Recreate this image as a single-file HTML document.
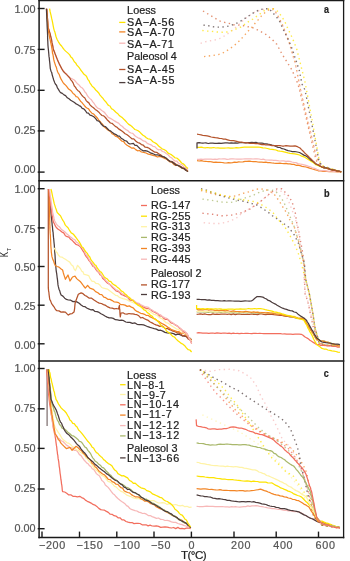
<!DOCTYPE html>
<html><head><meta charset="utf-8"><style>
html,body{margin:0;padding:0;background:#fff;width:350px;height:561px;overflow:hidden}
svg{display:block;font-family:"Liberation Sans",sans-serif;filter:blur(0.3px)}
text{stroke-width:0.22px}
</style></head><body>
<svg width="350" height="561" viewBox="0 0 350 561">
<rect width="350" height="561" fill="#fff"/>
<line x1="39.1" y1="0" x2="39.1" y2="538.2" stroke="#1a1a1a" stroke-width="1.5"/>
<line x1="343.6" y1="0" x2="343.6" y2="538.2" stroke="#1a1a1a" stroke-width="1.3"/>
<line x1="38.4" y1="0.6" x2="344.3" y2="0.6" stroke="#1a1a1a" stroke-width="1.5"/>
<line x1="38.4" y1="180.7" x2="344.3" y2="180.7" stroke="#1a1a1a" stroke-width="1.5"/>
<line x1="38.4" y1="360.9" x2="344.3" y2="360.9" stroke="#1a1a1a" stroke-width="1.5"/>
<line x1="38.4" y1="537.5" x2="344.3" y2="537.5" stroke="#1a1a1a" stroke-width="1.5"/>
<line x1="37.7" y1="8.5" x2="44.6" y2="8.5" stroke="#1a1a1a" stroke-width="1.4"/>
<text x="35.5" y="13.1" fill="#555" stroke="#555" font-size="10.8" text-anchor="end" >1.00</text>
<line x1="37.7" y1="49.4" x2="44.6" y2="49.4" stroke="#1a1a1a" stroke-width="1.4"/>
<text x="35.5" y="53.8" fill="#555" stroke="#555" font-size="10.8" text-anchor="end" >0.75</text>
<line x1="37.7" y1="90.3" x2="44.6" y2="90.3" stroke="#1a1a1a" stroke-width="1.4"/>
<text x="35.5" y="93.4" fill="#555" stroke="#555" font-size="10.8" text-anchor="end" >0.50</text>
<line x1="37.7" y1="130.9" x2="44.6" y2="130.9" stroke="#1a1a1a" stroke-width="1.4"/>
<text x="35.5" y="133.8" fill="#555" stroke="#555" font-size="10.8" text-anchor="end" >0.25</text>
<line x1="37.7" y1="172.1" x2="44.6" y2="172.1" stroke="#1a1a1a" stroke-width="1.4"/>
<text x="35.5" y="173.4" fill="#555" stroke="#555" font-size="10.8" text-anchor="end" >0.00</text>
<line x1="37.7" y1="188.7" x2="44.6" y2="188.7" stroke="#1a1a1a" stroke-width="1.4"/>
<text x="35.5" y="193.3" fill="#555" stroke="#555" font-size="10.8" text-anchor="end" >1.00</text>
<line x1="37.7" y1="227.9" x2="44.6" y2="227.9" stroke="#1a1a1a" stroke-width="1.4"/>
<text x="35.5" y="233.3" fill="#555" stroke="#555" font-size="10.8" text-anchor="end" >0.75</text>
<line x1="37.7" y1="266.5" x2="44.6" y2="266.5" stroke="#1a1a1a" stroke-width="1.4"/>
<text x="35.5" y="270.8" fill="#555" stroke="#555" font-size="10.8" text-anchor="end" >0.50</text>
<line x1="37.7" y1="305.2" x2="44.6" y2="305.2" stroke="#1a1a1a" stroke-width="1.4"/>
<text x="35.5" y="309.7" fill="#555" stroke="#555" font-size="10.8" text-anchor="end" >0.25</text>
<line x1="37.7" y1="343.8" x2="44.6" y2="343.8" stroke="#1a1a1a" stroke-width="1.4"/>
<text x="35.5" y="348.6" fill="#555" stroke="#555" font-size="10.8" text-anchor="end" >0.00</text>
<line x1="37.7" y1="368.5" x2="44.6" y2="368.5" stroke="#1a1a1a" stroke-width="1.4"/>
<text x="35.5" y="371.9" fill="#555" stroke="#555" font-size="10.8" text-anchor="end" >1.00</text>
<line x1="37.7" y1="408.8" x2="44.6" y2="408.8" stroke="#1a1a1a" stroke-width="1.4"/>
<text x="35.5" y="412.2" fill="#555" stroke="#555" font-size="10.8" text-anchor="end" >0.75</text>
<line x1="37.7" y1="448.4" x2="44.6" y2="448.4" stroke="#1a1a1a" stroke-width="1.4"/>
<text x="35.5" y="451.9" fill="#555" stroke="#555" font-size="10.8" text-anchor="end" >0.50</text>
<line x1="37.7" y1="489.0" x2="44.6" y2="489.0" stroke="#1a1a1a" stroke-width="1.4"/>
<text x="35.5" y="491.8" fill="#555" stroke="#555" font-size="10.8" text-anchor="end" >0.25</text>
<line x1="37.7" y1="528.7" x2="44.6" y2="528.7" stroke="#1a1a1a" stroke-width="1.4"/>
<text x="35.5" y="531.9" fill="#555" stroke="#555" font-size="10.8" text-anchor="end" >0.00</text>
<line x1="42.0" y1="531.6" x2="42.0" y2="537.5" stroke="#1a1a1a" stroke-width="1.4"/>
<text x="39.0" y="548.8" fill="#555" stroke="#555" font-size="10.8" text-anchor="start" textLength="26.2" lengthAdjust="spacing">−200</text>
<line x1="79.5" y1="531.6" x2="79.5" y2="537.5" stroke="#1a1a1a" stroke-width="1.4"/>
<text x="76.5" y="548.8" fill="#555" stroke="#555" font-size="10.8" text-anchor="start" textLength="26.2" lengthAdjust="spacing">−150</text>
<line x1="116.8" y1="531.6" x2="116.8" y2="537.5" stroke="#1a1a1a" stroke-width="1.4"/>
<text x="113.8" y="548.8" fill="#555" stroke="#555" font-size="10.8" text-anchor="start" textLength="26.2" lengthAdjust="spacing">−100</text>
<line x1="154.0" y1="531.6" x2="154.0" y2="537.5" stroke="#1a1a1a" stroke-width="1.4"/>
<text x="151.0" y="548.8" fill="#555" stroke="#555" font-size="10.8" text-anchor="start" textLength="19.4" lengthAdjust="spacing">−50</text>
<line x1="191.4" y1="531.6" x2="191.4" y2="537.5" stroke="#1a1a1a" stroke-width="1.4"/>
<text x="188.4" y="548.8" fill="#555" stroke="#555" font-size="10.8" text-anchor="start" textLength="6.6" lengthAdjust="spacing">0</text>
<line x1="234.0" y1="531.6" x2="234.0" y2="537.5" stroke="#1a1a1a" stroke-width="1.4"/>
<text x="231.0" y="548.8" fill="#555" stroke="#555" font-size="10.8" text-anchor="start" textLength="19.4" lengthAdjust="spacing">200</text>
<line x1="276.2" y1="531.6" x2="276.2" y2="537.5" stroke="#1a1a1a" stroke-width="1.4"/>
<text x="273.2" y="548.8" fill="#555" stroke="#555" font-size="10.8" text-anchor="start" textLength="19.4" lengthAdjust="spacing">400</text>
<line x1="318.5" y1="531.6" x2="318.5" y2="537.5" stroke="#1a1a1a" stroke-width="1.4"/>
<text x="315.5" y="548.8" fill="#555" stroke="#555" font-size="10.8" text-anchor="start" textLength="19.4" lengthAdjust="spacing">600</text>
<text x="181.0" y="558.5" fill="#222" stroke="#222" font-size="11.6" text-anchor="start" letter-spacing="-0.55">T(°C)</text>
<g transform="translate(8.4,256.9) rotate(-90) scale(0.7,1)"><text x="0" y="0" fill="#222" font-size="10.8">K</text></g>
<g transform="translate(10.6,249.6) rotate(-90)"><text x="0" y="0" fill="#222" font-size="5.6" text-anchor="middle">T</text></g>
<text x="324.0" y="12.5" fill="#222" stroke="#222" font-size="10" text-anchor="start" font-weight="bold" textLength="5" lengthAdjust="spacingAndGlyphs">a</text>
<text x="323.9" y="196.8" fill="#222" stroke="#222" font-size="10.5" text-anchor="start" font-weight="bold" textLength="5.6" lengthAdjust="spacingAndGlyphs">b</text>
<text x="323.8" y="376.6" fill="#222" stroke="#222" font-size="10" text-anchor="start" font-weight="bold" textLength="5" lengthAdjust="spacingAndGlyphs">c</text>
<text x="127.1" y="13.7" fill="#222" stroke="#222" font-size="10.8" textLength="28.9" lengthAdjust="spacing">Loess</text>
<text x="127.1" y="25.7" fill="#222" stroke="#222" font-size="10.8" textLength="47.1" lengthAdjust="spacing">SA−A-56</text>
<line x1="119.2" y1="22.4" x2="125.4" y2="22.4" stroke="#fde300" stroke-width="1.3"/>
<text x="127.1" y="36.2" fill="#222" stroke="#222" font-size="10.8" textLength="47.3" lengthAdjust="spacing">SA−A-70</text>
<line x1="119.2" y1="31.9" x2="125.4" y2="31.9" stroke="#f28526" stroke-width="1.3"/>
<text x="127.1" y="47.6" fill="#222" stroke="#222" font-size="10.8" textLength="46.7" lengthAdjust="spacing">SA−A-71</text>
<line x1="119.2" y1="43.2" x2="125.4" y2="43.2" stroke="#f7b8b8" stroke-width="1.3"/>
<text x="127.1" y="59.9" fill="#222" stroke="#222" font-size="10.8" textLength="49.7" lengthAdjust="spacing">Paleosol 4</text>
<text x="127.1" y="72.6" fill="#222" stroke="#222" font-size="10.8" textLength="47.3" lengthAdjust="spacing">SA−A-45</text>
<line x1="119.2" y1="69.5" x2="125.4" y2="69.5" stroke="#b4532b" stroke-width="1.3"/>
<text x="127.1" y="84.0" fill="#222" stroke="#222" font-size="10.8" textLength="47.3" lengthAdjust="spacing">SA−A-55</text>
<line x1="119.2" y1="82.6" x2="125.4" y2="82.6" stroke="#4d3d3d" stroke-width="1.3"/>
<text x="150.9" y="194.1" fill="#222" stroke="#222" font-size="10.8" textLength="29.1" lengthAdjust="spacing">Loess</text>
<text x="150.9" y="209.0" fill="#222" stroke="#222" font-size="10.8" textLength="39.7" lengthAdjust="spacing">RG-147</text>
<line x1="141.0" y1="205.5" x2="147.0" y2="205.5" stroke="#f26e5e" stroke-width="1.3"/>
<text x="150.9" y="219.7" fill="#222" stroke="#222" font-size="10.8" textLength="39.7" lengthAdjust="spacing">RG-255</text>
<line x1="141.0" y1="216.2" x2="147.0" y2="216.2" stroke="#fde300" stroke-width="1.3"/>
<text x="150.9" y="230.3" fill="#222" stroke="#222" font-size="10.8" textLength="39.4" lengthAdjust="spacing">RG-313</text>
<line x1="141.0" y1="226.7" x2="147.0" y2="226.7" stroke="#fff3a6" stroke-width="1.3"/>
<text x="150.9" y="241.0" fill="#222" stroke="#222" font-size="10.8" textLength="39.7" lengthAdjust="spacing">RG-345</text>
<line x1="141.0" y1="237.4" x2="147.0" y2="237.4" stroke="#a9b86c" stroke-width="1.3"/>
<text x="150.9" y="251.7" fill="#222" stroke="#222" font-size="10.8" textLength="39.7" lengthAdjust="spacing">RG-393</text>
<line x1="141.0" y1="248.5" x2="147.0" y2="248.5" stroke="#f28526" stroke-width="1.3"/>
<text x="150.9" y="262.8" fill="#222" stroke="#222" font-size="10.8" textLength="39.7" lengthAdjust="spacing">RG-445</text>
<line x1="141.0" y1="259.2" x2="147.0" y2="259.2" stroke="#f7b8b8" stroke-width="1.3"/>
<text x="150.9" y="277.2" fill="#222" stroke="#222" font-size="10.8" textLength="50.5" lengthAdjust="spacing">Paleosol 2</text>
<text x="150.9" y="288.1" fill="#222" stroke="#222" font-size="10.8" textLength="39.2" lengthAdjust="spacing">RG-177</text>
<line x1="141.0" y1="284.9" x2="147.0" y2="284.9" stroke="#b4532b" stroke-width="1.3"/>
<text x="150.9" y="298.6" fill="#222" stroke="#222" font-size="10.8" textLength="39.7" lengthAdjust="spacing">RG-193</text>
<line x1="141.0" y1="294.5" x2="147.0" y2="294.5" stroke="#4d3d3d" stroke-width="1.3"/>
<text x="127.1" y="378.9" fill="#222" stroke="#222" font-size="10.8" textLength="29.3" lengthAdjust="spacing">Loess</text>
<text x="127.1" y="388.7" fill="#222" stroke="#222" font-size="10.8" textLength="37.5" lengthAdjust="spacing">LN−8-1</text>
<line x1="120.1" y1="384.7" x2="125.6" y2="384.7" stroke="#fde300" stroke-width="1.3"/>
<text x="127.1" y="398.5" fill="#222" stroke="#222" font-size="10.8" textLength="38.7" lengthAdjust="spacing">LN−9-7</text>
<line x1="120.1" y1="394.5" x2="125.6" y2="394.5" stroke="#fff3a6" stroke-width="1.3"/>
<text x="127.1" y="408.4" fill="#222" stroke="#222" font-size="10.8" textLength="51.8" lengthAdjust="spacing">LN−10-14</text>
<line x1="120.1" y1="404.8" x2="125.6" y2="404.8" stroke="#f26e5e" stroke-width="1.3"/>
<text x="127.1" y="418.3" fill="#222" stroke="#222" font-size="10.8" textLength="44.6" lengthAdjust="spacing">LN−11-7</text>
<line x1="120.1" y1="415.1" x2="125.6" y2="415.1" stroke="#f28526" stroke-width="1.3"/>
<text x="127.1" y="429.3" fill="#222" stroke="#222" font-size="10.8" textLength="52.1" lengthAdjust="spacing">LN−12-12</text>
<line x1="120.1" y1="425.6" x2="125.6" y2="425.6" stroke="#f7b8b8" stroke-width="1.3"/>
<text x="127.1" y="439.2" fill="#222" stroke="#222" font-size="10.8" textLength="52.1" lengthAdjust="spacing">LN−13-12</text>
<line x1="120.1" y1="435.9" x2="125.6" y2="435.9" stroke="#a9b86c" stroke-width="1.3"/>
<text x="127.1" y="451.9" fill="#222" stroke="#222" font-size="10.8" textLength="50.3" lengthAdjust="spacing">Paleosol 3</text>
<text x="127.1" y="461.8" fill="#222" stroke="#222" font-size="10.8" textLength="52.1" lengthAdjust="spacing">LN−13-66</text>
<line x1="120.1" y1="457.9" x2="125.6" y2="457.9" stroke="#4d3d3d" stroke-width="1.3"/>
<path d="M46.8,8.8 L47.0,10.5 L47.1,13.1 L47.3,15.0 L47.4,17.5 L47.6,19.6 L47.7,20.9 L47.9,23.0 L48.0,26.4 L48.2,28.0 L48.9,29.7 L49.6,31.8 L50.3,34.3 L50.7,37.0 L51.1,38.3 L51.6,40.8 L52.0,42.3 L52.4,44.5 L52.9,45.8 L53.3,48.5 L53.7,50.3 L54.5,52.8 L55.2,54.1 L56.0,56.4 L56.8,58.2 L57.5,59.1 L58.3,61.7 L59.4,64.4 L60.6,66.4 L61.7,68.6 L63.4,70.6 L65.1,73.1 L66.6,73.9 L68.2,76.7 L69.7,77.7 L72.0,78.8 L74.3,80.0 L75.9,81.9 L77.5,83.8 L79.1,85.1 L80.7,87.0 L82.3,88.0 L83.6,89.6 L84.9,92.0 L86.2,93.2 L87.4,95.7 L88.7,97.4 L90.0,98.6 L91.4,99.8 L92.8,101.8 L94.3,103.7 L95.7,106.0 L97.7,108.1 L99.7,108.8 L101.7,110.5 L103.7,111.7 L105.2,113.3 L106.8,115.5 L108.3,117.4 L110.4,118.4 L112.4,119.5 L114.5,120.9 L116.5,122.1 L118.6,123.1 L120.4,125.2 L122.2,126.3 L124.1,128.2 L125.9,129.6 L127.7,130.5 L129.4,132.3 L131.1,133.0 L132.8,133.3 L134.6,135.5 L136.3,136.8 L138.0,137.8 L139.7,138.4 L141.4,139.4 L143.3,140.9 L145.2,141.3 L147.2,143.3 L149.1,144.1 L151.0,144.8 L152.9,146.3 L154.8,146.6 L156.7,148.7 L158.6,149.9 L160.5,149.5 L162.4,151.5 L164.3,152.0 L166.2,153.5 L168.1,154.8 L170.0,157.0 L171.7,157.9 L173.3,159.7 L175.0,161.1 L176.7,161.0 L178.3,163.0 L180.0,164.0 L182.0,164.7 L184.0,167.1 L186.0,167.9 L188.0,169.5" fill="none" stroke="#f7b8b8" stroke-width="1.25" stroke-linejoin="round" opacity="1"/>
<path d="M46.8,8.8 L47.0,11.5 L47.1,13.7 L47.3,15.2 L47.4,18.1 L47.6,19.2 L47.7,20.9 L47.9,23.9 L48.0,25.2 L48.2,28.0 L48.9,29.6 L49.6,32.1 L50.3,34.3 L50.7,36.5 L51.1,37.8 L51.6,39.6 L52.0,42.9 L52.4,44.0 L52.9,47.0 L53.3,48.9 L53.7,50.3 L54.5,52.0 L55.2,54.0 L56.0,56.0 L56.8,58.1 L57.5,59.9 L58.3,61.7 L59.4,64.1 L60.6,66.5 L61.7,68.6 L63.4,71.5 L65.1,73.1 L66.6,74.6 L68.2,76.1 L69.7,77.7 L70.8,79.9 L72.0,81.1 L73.2,83.1 L74.3,86.0 L75.4,87.2 L76.6,89.1 L78.0,90.7 L79.3,91.5 L80.7,93.7 L82.0,95.5 L83.4,96.9 L84.7,97.8 L86.0,100.3 L87.4,101.9 L88.7,102.6 L90.0,104.9 L91.7,106.5 L93.5,107.7 L95.2,109.4 L96.9,110.6 L98.6,111.9 L100.3,113.9 L102.0,115.5 L103.7,115.9 L105.4,117.5 L107.1,119.7 L108.7,121.3 L110.4,123.0 L112.0,123.3 L113.7,124.9 L115.3,126.4 L117.0,127.3 L118.6,128.9 L120.2,129.9 L121.9,131.0 L123.5,132.2 L125.1,133.7 L126.7,134.5 L128.4,135.7 L130.0,137.1 L131.9,138.8 L133.8,138.9 L135.7,141.0 L137.6,142.5 L139.5,143.1 L141.4,144.6 L143.3,145.2 L145.2,147.2 L147.2,147.4 L149.1,148.3 L151.0,149.8 L152.9,150.9 L154.8,152.2 L156.7,152.3 L158.6,153.7 L160.5,154.7 L162.4,156.5 L164.3,157.0 L166.2,158.2 L168.1,160.2 L170.0,161.0 L172.0,161.5 L174.0,162.8 L176.0,164.2 L178.0,165.6 L180.0,166.0 L182.0,167.3 L184.0,168.3 L186.0,169.6 L188.0,171.5" fill="none" stroke="#b4532b" stroke-width="1.25" stroke-linejoin="round" opacity="1"/>
<path d="M46.4,8.7 L46.6,10.8 L46.8,12.4 L46.9,15.5 L47.1,17.6 L47.3,18.7 L47.5,21.0 L47.7,23.9 L47.9,25.7 L48.0,28.1 L48.2,29.5 L48.4,31.8 L48.8,33.2 L49.3,35.5 L49.7,38.2 L50.1,39.4 L50.5,41.5 L51.0,43.6 L51.4,45.7 L51.8,47.9 L52.2,50.1 L52.5,53.2 L52.9,54.3 L53.3,56.4 L53.7,59.4 L54.4,62.0 L55.0,63.9 L55.7,66.0 L56.3,67.1 L57.0,69.9 L57.6,71.8 L58.3,73.1 L59.2,74.5 L60.1,77.1 L61.1,79.1 L62.0,80.7 L62.9,82.3 L64.3,84.0 L65.8,85.4 L67.2,87.2 L68.6,89.1 L70.1,90.1 L71.6,91.3 L73.1,93.5 L74.6,94.5 L76.1,96.7 L77.6,97.0 L79.1,99.1 L80.5,101.2 L81.8,102.4 L83.2,104.2 L84.5,105.7 L85.9,107.2 L87.3,108.2 L88.6,108.9 L90.0,111.1 L91.9,113.2 L93.8,114.1 L95.7,116.3 L97.1,117.7 L98.6,119.9 L100.0,121.4 L101.4,123.1 L102.8,124.5 L104.2,126.9 L105.7,128.0 L107.1,129.4 L108.7,130.4 L110.4,131.5 L112.0,133.7 L113.6,134.4 L115.3,136.1 L116.9,136.7 L118.5,137.7 L120.2,139.5 L121.8,141.1 L123.5,141.4 L125.1,143.6 L126.7,145.0 L128.4,146.1 L130.0,146.9 L131.9,148.2 L133.8,147.9 L135.7,149.6 L137.6,150.8 L139.5,150.5 L141.4,152.0 L143.7,152.3 L146.0,153.0 L148.3,154.1 L150.6,154.6 L152.9,155.4 L155.2,155.9 L157.5,157.0 L159.7,156.4 L162.0,157.1 L164.3,158.3 L166.2,159.0 L168.1,160.2 L170.0,162.0 L172.0,162.4 L174.0,164.7 L176.0,165.5 L178.0,165.4 L180.0,167.0 L182.0,168.1 L184.0,169.0 L186.0,170.1 L188.0,171.5" fill="none" stroke="#f28526" stroke-width="1.25" stroke-linejoin="round" opacity="1"/>
<path d="M46.4,8.7 L46.5,10.5 L46.6,13.0 L46.7,15.0 L46.8,16.7 L46.8,18.5 L46.9,20.8 L47.0,22.5 L47.1,25.2 L47.2,27.5 L47.3,29.1 L47.4,30.7 L47.5,32.9 L47.6,35.2 L47.6,37.6 L47.7,40.0 L47.8,41.4 L47.9,44.1 L48.0,45.7 L48.2,48.0 L48.4,49.8 L48.6,51.8 L48.8,54.0 L49.0,56.4 L49.3,58.1 L49.5,60.6 L49.7,62.3 L49.9,64.1 L50.1,66.6 L50.3,68.6 L51.0,71.2 L51.7,72.5 L52.3,75.3 L53.0,77.6 L53.7,80.0 L54.6,82.4 L55.5,84.3 L56.5,85.3 L57.4,87.9 L58.3,89.1 L59.5,91.3 L60.6,92.6 L62.3,93.4 L64.0,94.9 L65.6,95.6 L67.3,97.8 L69.0,98.8 L70.7,100.3 L72.4,101.3 L74.1,102.3 L75.7,103.6 L77.4,104.5 L79.1,105.6 L80.7,106.4 L82.2,108.4 L83.8,108.9 L85.3,110.5 L86.9,112.8 L88.4,113.1 L90.0,115.1 L91.9,115.7 L93.8,116.8 L95.7,118.6 L97.1,120.6 L98.6,121.0 L100.0,122.2 L101.4,124.3 L103.4,126.2 L105.3,126.5 L107.3,128.5 L109.0,130.2 L110.8,131.1 L112.5,132.6 L114.3,133.9 L116.0,134.6 L117.8,136.1 L119.5,136.2 L121.3,138.4 L123.0,139.2 L124.8,140.7 L126.5,141.0 L128.3,143.2 L130.0,144.0 L133.4,143.4 L135.0,145.3 L136.6,145.3 L138.2,146.9 L139.8,148.5 L141.4,149.7 L143.3,150.9 L145.2,150.6 L147.2,151.2 L149.1,152.0 L151.0,153.2 L152.9,153.7 L155.2,154.8 L157.5,154.9 L159.7,155.5 L162.0,156.3 L164.3,157.1 L166.2,158.3 L168.1,159.9 L170.0,161.5 L172.0,161.9 L174.0,163.5 L176.0,165.2 L178.0,165.4 L180.0,166.5 L182.0,168.1 L184.0,168.5 L186.0,170.5 L188.0,171.5" fill="none" stroke="#4d3d3d" stroke-width="1.25" stroke-linejoin="round" opacity="1"/>
<path d="M49.6,8.7 L50.1,11.4 L50.6,13.6 L51.1,15.7 L51.6,18.2 L52.2,20.7 L52.7,23.2 L53.2,25.9 L53.8,28.8 L54.3,30.7 L54.9,32.1 L55.4,34.0 L56.0,36.6 L57.0,39.3 L58.4,41.8 L59.9,44.2 L61.3,45.7 L62.9,48.0 L64.2,49.6 L65.6,51.1 L67.7,52.9 L69.7,54.9 L70.8,56.9 L72.0,57.8 L73.2,59.7 L74.3,61.7 L75.6,62.9 L76.9,65.1 L78.1,66.4 L79.4,67.9 L80.7,70.0 L82.4,72.1 L84.0,74.3 L85.7,75.4 L86.8,76.9 L87.8,79.3 L88.9,80.6 L90.0,83.1 L91.0,84.4 L92.1,86.1 L93.9,87.7 L95.7,90.0 L97.1,91.3 L98.5,92.7 L100.0,95.1 L101.4,96.7 L102.8,98.1 L104.2,100.1 L105.7,101.7 L107.1,103.7 L108.5,105.5 L110.0,106.0 L111.5,108.7 L112.9,109.4 L114.4,110.7 L115.9,112.2 L117.5,113.4 L119.0,115.2 L120.5,116.5 L122.0,117.4 L123.6,119.0 L125.2,120.5 L126.8,122.4 L128.4,124.1 L130.0,125.1 L131.6,126.2 L133.3,127.9 L134.9,129.5 L136.5,130.0 L138.1,130.8 L139.8,132.1 L141.4,133.7 L143.0,135.2 L144.7,136.2 L146.3,137.8 L148.0,138.8 L149.6,139.0 L151.3,140.1 L152.9,141.7 L154.8,142.7 L156.7,143.9 L158.6,146.0 L160.5,147.6 L162.4,149.0 L164.3,149.7 L166.2,150.8 L168.1,153.1 L170.0,154.0 L171.7,154.9 L173.3,156.2 L175.0,157.8 L176.7,158.0 L178.3,159.2 L180.0,161.0 L181.6,163.0 L183.2,163.7 L184.8,165.3 L186.4,167.1 L188.0,168.5" fill="none" stroke="#fde300" stroke-width="1.25" stroke-linejoin="round" opacity="1"/>
<path d="M203.0,11.0 L219.4,20.9 L224.2,22.3 L229.1,23.4 L233.7,24.8 L238.9,25.1 L243.4,25.7 L247.9,26.7 L252.4,27.6 L256.9,29.6 L261.3,31.9 L265.8,34.4 L269.7,37.5 L273.6,40.9 L276.8,44.3 L282.0,54.0 L292.0,70.0 L298.0,84.0 L301.0,96.0 L309.0,130.0 L316.0,160.0 L320.0,166.0 L341.0,172.0" fill="none" stroke="#d8663a" stroke-width="1.4" stroke-linejoin="round" stroke-dasharray="1.4 3.4" stroke-linecap="butt" opacity="0.72"/>
<path d="M204.0,56.6 L208.6,56.0 L213.5,55.4 L218.3,54.6 L222.6,53.1 L226.9,50.6 L230.9,48.0 L234.9,44.9 L238.9,41.3 L242.1,37.9 L245.3,34.4 L248.5,30.8 L251.7,27.6 L254.9,23.5 L258.1,19.9 L261.3,16.1 L264.6,12.9 L269.1,9.6 L273.6,8.7 L277.0,14.0 L280.0,20.0 L283.0,26.0 L286.0,34.0 L289.0,42.0 L292.0,52.0 L295.0,62.0 L297.0,72.0 L299.0,82.0 L300.4,90.0 L308.0,123.0 L316.5,157.4 L319.0,163.0 L325.0,168.0 L341.0,172.0" fill="none" stroke="#f28526" stroke-width="1.4" stroke-linejoin="round" stroke-dasharray="1.4 3.4" stroke-linecap="butt" opacity="0.72"/>
<path d="M200.6,43.4 L205.7,41.7 L210.3,40.8 L214.9,40.0 L220.0,38.3 L224.0,36.2 L228.6,33.1 L233.1,29.7 L238.0,25.5 L243.0,20.5 L248.0,16.5 L255.0,12.0 L262.0,9.5 L268.0,9.0 L273.0,10.0 L277.0,14.5 L280.0,20.5 L283.0,26.5 L286.0,34.5 L289.0,42.5 L292.0,52.5 L295.0,62.5 L297.0,72.5 L299.0,82.5 L301.0,90.5 L308.5,123.0 L317.0,158.0 L320.0,164.0 L326.0,168.0 L341.0,172.0" fill="none" stroke="#f7b8b8" stroke-width="1.4" stroke-linejoin="round" stroke-dasharray="1.4 3.4" stroke-linecap="butt" opacity="0.72"/>
<path d="M203.4,25.1 L207.4,25.5 L212.0,26.6 L217.0,27.1 L221.7,27.1 L226.3,26.6 L230.9,25.5 L235.6,23.8 L239.5,21.9 L243.4,19.3 L247.9,16.5 L251.7,13.9 L255.6,11.6 L260.1,9.6 L264.6,8.7 L269.1,8.7 L272.9,12.9 L276.1,16.5 L279.3,20.6 L283.0,29.0 L285.0,33.0 L287.0,37.0 L289.0,41.0 L291.0,46.0 L293.0,51.0 L294.0,55.0 L296.0,60.0 L297.0,64.0 L299.0,69.0 L300.0,74.0 L301.0,79.0 L302.0,84.0 L305.0,90.0 L312.0,125.0 L318.9,160.6 L322.0,166.0 L341.0,172.0" fill="none" stroke="#4d3d3d" stroke-width="1.4" stroke-linejoin="round" stroke-dasharray="1.4 3.4" stroke-linecap="butt" opacity="0.72"/>
<path d="M202.3,30.5 L207.4,31.1 L212.0,31.4 L217.1,32.0 L222.3,32.2 L226.9,32.0 L232.0,30.6 L236.3,28.9 L240.8,27.0 L244.6,24.4 L249.1,21.2 L253.0,19.0 L256.9,16.1 L261.3,12.9 L265.2,10.0 L269.7,8.7 L274.2,9.0 L278.1,11.6 L282.0,17.0 L285.0,22.0 L288.0,29.0 L291.0,35.0 L294.0,42.0 L297.0,50.0 L299.0,58.0 L301.0,66.0 L303.0,74.0 L305.0,82.0 L306.5,90.0 L313.0,125.0 L319.3,161.0 L323.0,166.0 L341.0,172.0" fill="none" stroke="#fde300" stroke-width="1.4" stroke-linejoin="round" stroke-dasharray="1.4 3.4" stroke-linecap="butt" opacity="0.72"/>
<path d="M197.0,160.7 L199.1,161.0 L201.2,160.7 L203.3,161.1 L205.4,161.3 L207.5,161.5 L209.6,161.5 L211.7,161.9 L213.7,162.3 L215.8,162.1 L217.9,162.4 L220.0,162.3 L222.1,162.5 L224.2,162.9 L226.3,163.0 L228.4,162.6 L230.4,162.9 L232.5,162.7 L234.6,162.1 L236.7,162.4 L238.7,161.9 L240.8,162.0 L242.9,161.8 L245.0,161.3 L247.0,161.4 L249.1,161.1 L251.2,161.4 L253.3,161.6 L255.3,161.5 L257.4,161.9 L259.5,162.2 L261.6,162.2 L263.7,162.3 L265.8,162.2 L267.8,162.7 L269.9,162.7 L272.0,163.0 L274.0,163.2 L276.0,163.3 L278.0,163.3 L280.0,163.2 L282.0,163.5 L284.0,163.6 L286.0,163.4 L288.0,163.9 L290.0,163.8 L292.0,164.3 L294.0,164.4 L296.0,165.3 L298.0,165.2 L300.0,165.7 L302.0,166.3 L304.0,166.7 L306.0,167.0 L308.1,167.7 L310.3,168.4 L312.4,169.0 L314.6,169.6 L316.8,170.1 L318.9,171.0 L320.9,170.8 L323.0,171.3 L325.0,171.4 L327.0,171.4 L329.1,171.6 L331.1,171.5 L333.2,171.5 L335.2,171.7 L337.2,172.0 L339.3,171.6 L341.3,172.0" fill="none" stroke="#f28526" stroke-width="1.25" stroke-linejoin="round" opacity="1"/>
<path d="M197.0,159.3 L199.0,159.3 L201.0,159.1 L203.0,159.4 L205.0,159.2 L207.0,159.1 L209.0,159.2 L211.0,159.2 L213.0,159.4 L215.0,159.1 L217.0,159.4 L219.0,158.9 L221.0,159.0 L223.0,158.9 L225.0,158.9 L227.0,159.3 L229.0,159.2 L231.0,158.9 L233.0,158.9 L235.0,159.0 L237.0,159.2 L239.0,159.2 L241.0,159.1 L243.0,159.0 L245.0,158.8 L247.0,158.9 L249.0,158.8 L251.0,158.9 L253.0,159.0 L255.0,158.9 L257.1,158.9 L259.1,159.0 L261.2,159.5 L263.2,159.2 L265.3,159.8 L267.4,160.0 L269.4,160.2 L271.5,160.0 L273.5,160.3 L275.6,160.4 L277.6,160.6 L279.7,161.0 L281.8,160.9 L283.8,160.8 L285.9,161.3 L287.9,161.2 L290.0,161.4 L292.0,162.0 L294.0,162.5 L296.0,162.6 L298.0,163.6 L300.0,164.0 L302.0,164.4 L304.0,164.9 L306.0,165.4 L308.1,166.2 L310.3,166.8 L312.4,167.8 L314.6,168.3 L316.8,169.4 L318.9,170.2 L320.9,170.5 L323.0,170.5 L325.0,170.7 L327.0,171.1 L329.1,171.3 L331.1,171.0 L333.2,171.5 L335.2,171.6 L337.2,171.4 L339.3,171.8 L341.3,172.0" fill="none" stroke="#f7b8b8" stroke-width="1.25" stroke-linejoin="round" opacity="1"/>
<path d="M197.0,147.4 L199.1,147.3 L201.2,147.2 L203.3,147.6 L205.4,147.8 L207.5,147.5 L209.6,147.9 L211.7,147.8 L213.7,147.5 L215.8,148.0 L217.9,147.9 L220.0,148.1 L222.1,148.0 L224.2,148.1 L226.3,148.0 L228.3,147.8 L230.3,148.1 L232.3,148.1 L234.3,148.0 L236.3,147.6 L238.3,147.8 L240.3,147.6 L242.3,147.3 L244.3,147.2 L246.3,147.1 L248.3,147.1 L250.3,147.0 L252.3,147.2 L254.3,147.2 L256.3,147.1 L258.3,147.0 L260.6,147.3 L262.9,147.9 L265.1,148.0 L267.4,148.5 L269.7,149.1 L272.0,149.3 L274.0,149.7 L276.0,150.0 L278.0,150.9 L280.0,151.2 L282.0,151.4 L284.0,151.9 L286.0,152.4 L288.0,152.9 L290.0,153.3 L292.4,153.6 L294.8,153.9 L297.2,154.4 L299.6,155.0 L301.7,156.2 L303.9,156.8 L306.0,158.0 L307.9,159.3 L309.9,160.5 L311.8,161.8 L313.8,163.1 L315.7,164.6 L317.8,165.5 L319.9,166.3 L322.0,167.5 L324.1,167.7 L326.3,168.2 L328.4,168.7 L330.6,169.4 L332.7,169.6 L334.9,170.1 L337.0,170.8 L339.2,171.3 L341.3,171.8" fill="none" stroke="#fde300" stroke-width="1.25" stroke-linejoin="round" opacity="1"/>
<path d="M197.0,148.6 L197.0,145.9 L197.0,142.9 L199.2,142.7 L201.5,143.0 L203.7,143.0 L205.9,142.9 L208.2,143.5 L210.4,143.1 L212.7,143.1 L214.9,143.4 L217.0,143.3 L219.0,143.1 L221.1,143.3 L223.1,143.1 L225.2,142.9 L227.2,142.8 L229.3,143.2 L231.3,142.9 L233.4,143.1 L235.4,142.9 L237.5,143.1 L239.6,142.7 L241.6,142.6 L243.7,142.6 L245.7,142.8 L247.8,142.7 L249.8,142.5 L251.9,142.3 L253.9,142.6 L256.0,142.4 L258.0,143.0 L260.0,143.1 L262.0,143.1 L264.0,143.5 L266.0,143.8 L268.0,144.2 L270.0,144.5 L272.0,145.1 L274.0,145.5 L276.0,146.5 L278.0,147.3 L280.0,147.5 L282.0,148.7 L284.0,149.0 L286.0,149.9 L288.0,150.6 L290.0,151.0 L292.4,151.6 L294.8,151.5 L297.2,152.0 L299.6,152.5 L301.7,153.7 L303.9,155.1 L306.0,156.0 L307.6,157.1 L309.2,158.5 L310.9,160.1 L312.5,161.0 L314.1,162.4 L315.7,163.8 L317.8,164.8 L319.9,166.0 L322.0,167.0 L324.1,167.8 L326.3,167.9 L328.4,168.7 L330.6,169.3 L332.7,169.9 L334.9,170.2 L337.0,171.0 L339.2,171.2 L341.3,171.8" fill="none" stroke="#4d3d3d" stroke-width="1.25" stroke-linejoin="round" opacity="1"/>
<path d="M197.0,134.2 L199.0,134.5 L201.1,134.8 L203.1,135.5 L205.1,135.7 L207.2,135.9 L209.2,136.3 L211.2,137.0 L213.3,137.3 L215.3,137.7 L217.3,137.9 L219.4,138.3 L221.4,138.5 L223.5,139.2 L225.5,139.2 L227.5,139.8 L229.6,140.4 L231.6,140.7 L233.6,140.7 L235.7,141.2 L237.7,141.7 L239.7,142.1 L241.7,142.2 L243.8,142.6 L245.8,142.8 L247.8,142.8 L249.8,143.3 L251.8,143.4 L253.8,143.4 L255.9,143.7 L257.9,143.7 L259.9,144.2 L261.9,144.7 L263.9,144.4 L265.9,145.0 L268.0,144.9 L270.0,145.1 L272.0,145.6 L274.0,145.7 L276.0,145.6 L278.0,145.5 L280.0,145.6 L282.0,146.0 L284.0,146.0 L286.0,145.7 L288.0,145.9 L290.0,146.1 L292.5,146.2 L295.0,145.8 L297.5,146.7 L300.0,148.0 L301.5,149.6 L303.0,151.0 L304.5,152.7 L306.0,154.1 L307.7,155.8 L309.3,157.5 L311.0,159.0 L312.6,160.6 L314.1,162.0 L315.7,163.8 L317.8,164.7 L319.9,165.7 L322.0,167.0 L324.0,167.8 L326.0,168.0 L328.0,168.6 L330.0,169.5 L332.3,170.2 L334.5,170.2 L336.8,171.1 L339.0,171.1 L341.3,171.8" fill="none" stroke="#b4532b" stroke-width="1.25" stroke-linejoin="round" opacity="1"/>
<path d="M48.5,189.0 L48.7,190.9 L48.9,192.6 L49.1,195.5 L49.3,197.2 L49.5,199.2 L49.7,201.4 L50.0,203.6 L50.2,204.8 L50.4,207.2 L50.6,208.9 L50.8,210.4 L51.0,213.5 L51.2,215.1 L51.4,217.5 L51.6,218.6 L51.8,221.1 L52.0,222.9 L52.2,225.3 L52.4,226.4 L52.6,228.8 L52.8,231.0 L53.1,232.4 L53.3,235.1 L53.5,237.4 L53.7,238.9 L53.9,241.2 L54.1,243.2 L54.3,245.0 L54.4,246.6 L54.6,248.8 L54.7,251.7 L54.8,252.8 L55.0,254.9 L55.1,256.4 L55.2,258.6 L55.3,260.5 L55.5,263.6 L55.6,265.0 L55.9,267.5 L56.1,269.8 L56.4,272.1 L56.7,273.7 L57.0,276.3 L57.2,277.9 L57.5,279.9 L57.8,282.8 L58.0,284.9 L58.3,286.4 L59.0,289.2 L59.7,290.7 L60.4,293.3 L61.1,295.0 L62.9,296.1 L64.7,298.2 L66.5,299.4 L68.3,300.0 L70.7,300.2 L73.0,301.6 L75.4,301.4 L77.3,302.1 L79.2,303.2 L81.1,305.0 L83.0,306.3 L84.8,306.6 L86.7,308.0 L88.6,308.9 L90.7,309.8 L92.8,309.6 L95.0,311.4 L97.1,311.7 L99.1,312.4 L101.0,313.7 L103.0,314.7 L105.0,316.0 L107.1,317.1 L109.2,317.9 L111.2,317.9 L113.3,318.4 L115.4,319.7 L117.5,319.8 L119.5,320.3 L121.6,320.2 L123.7,320.7 L125.8,322.0 L127.8,322.3 L129.9,322.4 L132.4,323.4 L135.0,322.9 L137.1,324.3 L139.3,324.7 L141.4,324.6 L143.6,324.9 L145.7,325.8 L147.8,326.7 L150.0,327.4 L152.1,328.0 L154.2,328.7 L156.4,329.1 L158.6,330.4 L160.7,330.2 L162.8,331.1 L165.0,332.4 L167.2,332.9 L169.3,333.1 L171.4,333.2 L173.6,333.6 L175.7,334.9 L177.9,334.1 L180.0,334.7 L182.1,335.8 L184.3,336.2 L186.4,336.6 L188.1,337.2 L189.9,338.2 L191.6,340.0" fill="none" stroke="#4d3d3d" stroke-width="1.25" stroke-linejoin="round" opacity="1"/>
<path d="M48.3,189.0 L48.3,190.6 L48.3,193.4 L48.3,195.0 L48.3,197.8 L48.3,199.5 L48.3,201.8 L48.3,202.4 L48.3,204.7 L48.3,206.4 L48.3,209.1 L48.3,211.0 L48.3,212.5 L48.3,215.3 L48.3,216.6 L48.3,219.0 L48.3,220.9 L48.3,223.8 L48.3,225.2 L48.3,227.0 L48.3,228.7 L48.3,231.3 L48.3,233.6 L48.3,235.7 L48.3,238.1 L48.3,239.9 L48.3,241.1 L48.3,242.9 L48.3,245.9 L48.3,248.0 L48.3,249.6 L48.3,252.1 L48.3,253.7 L48.3,255.3 L48.3,257.1 L48.3,258.9 L48.3,261.9 L48.3,264.3 L48.3,266.3 L48.3,267.7 L48.3,270.0 L48.3,272.4 L48.3,274.2 L48.3,275.9 L48.3,277.7 L48.3,279.9 L48.3,281.4 L48.3,283.4 L48.3,286.2 L48.3,287.9 L48.6,290.9 L48.9,292.5 L49.1,294.6 L49.4,296.8 L49.7,299.3 L50.7,301.1 L51.6,303.6 L52.6,305.0 L54.0,306.8 L55.5,309.5 L56.9,310.7 L59.0,310.9 L61.1,312.1 L63.2,311.8 L65.4,312.1 L66.8,313.6 L68.3,315.0 L70.2,313.9 L72.1,313.6 L74.0,312.1 L74.3,310.6 L74.6,308.7 L74.8,306.3 L75.1,303.4 L75.4,302.1 L76.1,300.3 L76.8,298.3 L77.6,296.2 L78.3,294.3 L81.1,292.9 L83.0,293.7 L85.0,295.5 L86.9,296.4 L89.3,298.2 L91.6,298.2 L94.0,300.0 L97.1,302.0 L99.2,303.1 L101.4,303.5 L103.5,304.6 L105.7,305.4 L107.8,306.9 L110.0,307.8 L112.2,308.2 L114.3,308.9 L116.4,308.5 L118.5,309.0 L119.4,305.4 L119.6,308.4 L119.8,309.6 L119.9,312.2 L120.1,315.2 L120.3,317.0 L120.7,314.7 L121.0,313.0 L123.0,312.8 L125.0,314.0 L127.0,314.2 L129.0,313.5 L131.0,313.8 L133.0,313.8 L135.0,314.3 L136.9,314.7 L138.8,315.8 L140.7,317.9 L142.6,317.5 L144.5,318.7 L146.4,319.6 L148.3,320.4 L150.2,322.0 L152.1,322.9 L154.0,324.0 L155.9,324.9 L157.8,325.4 L159.7,326.4 L161.7,325.9 L163.6,327.1 L165.5,328.9 L167.4,328.3 L169.3,329.7 L171.2,330.1 L173.1,331.2 L175.0,331.7 L176.9,332.8 L178.8,332.9 L180.7,333.9 L182.6,335.8 L184.5,335.3 L186.4,336.6 L188.1,339.0 L189.9,339.7 L191.6,342.0" fill="none" stroke="#b4532b" stroke-width="1.25" stroke-linejoin="round" opacity="1"/>
<path d="M49.1,189.3 L49.1,192.1 L49.2,193.6 L49.2,195.6 L49.3,196.9 L49.3,198.8 L49.4,201.9 L49.4,203.0 L49.4,205.1 L49.5,208.1 L49.5,210.2 L49.6,211.0 L49.6,214.4 L49.6,215.8 L49.7,217.6 L49.7,219.2 L49.8,221.6 L49.8,224.6 L49.9,225.5 L49.9,227.9 L50.0,229.4 L50.1,231.4 L50.2,233.4 L50.4,235.7 L50.5,238.6 L50.6,239.4 L50.7,241.6 L50.8,244.7 L50.9,246.8 L51.1,248.8 L51.2,249.7 L51.3,252.1 L51.6,254.0 L51.9,256.4 L52.8,259.4 L53.6,261.0 L54.5,263.7 L55.4,265.7 L57.2,266.5 L59.0,267.1 L60.8,268.7 L62.6,270.0 L63.3,272.7 L64.0,275.1 L64.7,277.1 L65.4,279.3 L66.7,277.1 L68.0,275.0 L68.7,277.1 L69.3,278.9 L70.0,281.0 L71.2,279.1 L72.5,277.0 L75.0,276.1 L76.7,278.6 L78.4,280.1 L80.2,281.4 L81.9,283.6 L83.6,286.0 L85.3,288.1 L87.6,285.3 L89.9,288.1 L93.3,289.3 L95.6,291.6 L97.9,292.7 L99.9,294.5 L101.8,294.7 L103.8,297.1 L105.7,297.7 L107.8,299.3 L110.0,299.4 L112.2,300.6 L114.3,302.0 L116.5,302.2 L118.6,302.6 L120.8,304.7 L122.9,304.6 L125.0,305.1 L127.2,306.4 L129.3,305.9 L131.4,307.1 L133.2,307.8 L135.0,310.0 L136.9,311.4 L138.8,312.2 L140.7,313.3 L142.6,313.7 L144.5,314.3 L146.4,315.5 L148.3,315.4 L150.2,316.9 L152.1,317.7 L153.8,318.6 L155.5,319.2 L157.3,320.9 L159.0,321.6 L160.7,322.9 L162.4,323.7 L164.1,324.6 L165.9,325.7 L167.6,327.1 L169.3,328.0 L171.2,329.5 L173.1,330.2 L175.0,330.8 L176.9,331.6 L178.8,331.5 L180.7,333.3 L182.6,333.0 L184.5,333.6 L186.4,334.9 L188.1,336.6 L189.9,338.6 L191.6,340.0" fill="none" stroke="#f28526" stroke-width="1.25" stroke-linejoin="round" opacity="1"/>
<path d="M54.0,247.9 L55.1,249.4 L56.1,251.7 L57.2,252.8 L58.3,255.0 L60.1,256.9 L61.9,257.1 L63.6,258.2 L65.4,259.3 L67.6,260.8 L69.7,262.1 L71.3,264.7 L73.0,266.0 L74.2,269.2 L75.4,270.7 L76.5,268.1 L77.6,265.3 L79.6,267.6 L80.7,269.2 L81.8,271.2 L83.0,271.9 L84.1,274.4 L86.4,274.9 L88.7,275.6 L89.8,278.1 L91.0,279.9 L92.1,281.3 L94.0,281.3 L96.0,283.5 L97.9,283.6 L99.8,284.9 L101.7,287.5 L103.6,288.1 L105.5,288.6 L107.4,289.1 L109.3,290.4 L111.6,292.2 L113.9,293.9 L115.7,295.5 L117.5,295.7 L119.3,297.4 L121.1,298.0 L122.9,298.6 L125.0,299.2 L127.2,299.9 L129.3,301.2 L131.4,302.0 L133.7,303.0 L136.0,304.0 L138.3,305.4 L140.3,306.8 L142.2,308.2 L144.2,308.8 L146.2,309.1 L148.2,310.3 L150.1,311.7 L152.1,313.0 L153.8,314.3 L155.5,314.6 L157.3,315.5 L159.0,317.1 L160.7,318.1 L162.4,318.8 L164.1,320.8 L165.9,322.6 L167.6,323.0 L169.3,324.0 L171.2,325.5 L173.1,326.8 L175.0,327.9 L176.9,329.2 L178.8,329.5 L180.7,331.0 L182.6,331.1 L184.5,333.6 L186.4,334.0 L187.7,335.5 L189.0,337.5 L190.3,340.0 L191.6,341.0" fill="none" stroke="#fff3a6" stroke-width="1.25" stroke-linejoin="round" opacity="1"/>
<path d="M48.9,189.0 L49.1,190.7 L49.3,192.5 L49.5,195.5 L49.8,197.1 L50.0,198.4 L50.2,200.3 L50.4,202.8 L50.6,205.0 L50.9,206.3 L51.2,209.5 L51.4,210.5 L51.7,212.7 L52.0,215.0 L52.5,217.2 L52.9,219.8 L53.4,222.1 L54.4,223.8 L55.3,225.9 L56.3,227.5 L58.2,229.3 L60.1,230.5 L62.0,232.1 L63.7,232.9 L65.4,235.7 L67.2,236.7 L68.9,237.2 L70.6,239.3 L72.4,240.6 L74.2,242.5 L75.9,244.3 L77.7,245.0 L79.1,245.8 L80.6,247.1 L82.0,249.3 L83.1,251.1 L84.2,252.7 L85.3,255.2 L86.4,256.9 L87.5,258.0 L88.6,260.0 L90.0,261.7 L91.4,263.8 L92.8,266.1 L94.3,267.0 L95.7,269.1 L97.1,271.1 L98.5,272.2 L100.0,274.7 L101.4,275.5 L102.8,278.6 L104.3,279.7 L105.7,281.4 L107.4,283.1 L109.1,283.9 L110.9,285.6 L112.6,287.5 L114.3,289.1 L116.0,290.8 L117.7,291.4 L119.4,292.1 L121.1,294.3 L122.8,294.9 L124.6,295.9 L126.3,296.5 L128.0,297.8 L129.7,299.8 L131.4,300.3 L133.3,300.7 L135.2,302.3 L137.0,303.4 L138.9,303.9 L140.8,305.5 L142.7,306.7 L144.6,307.6 L146.5,308.4 L148.3,308.5 L150.2,309.3 L152.1,310.9 L154.0,311.9 L155.9,312.9 L157.8,313.8 L159.7,316.0 L161.7,316.1 L163.6,318.2 L165.5,319.5 L167.4,319.4 L169.3,321.1 L171.0,322.9 L172.7,323.3 L174.4,324.3 L176.1,325.4 L177.9,326.4 L179.6,328.3 L181.3,329.3 L183.0,331.2 L184.7,332.4 L186.4,333.1 L187.4,334.5 L188.5,337.1 L189.5,339.1 L190.6,340.9 L191.6,343.4" fill="none" stroke="#f26e5e" stroke-width="1.25" stroke-linejoin="round" opacity="1"/>
<path d="M49.4,189.0 L49.7,190.6 L50.0,192.6 L50.2,195.3 L50.5,196.8 L50.8,198.4 L51.0,200.6 L51.3,202.9 L51.6,205.0 L52.0,207.3 L52.3,209.1 L52.6,212.0 L53.0,214.0 L53.5,215.8 L54.1,218.7 L54.6,220.7 L56.0,223.3 L57.5,225.5 L59.3,226.7 L61.2,229.2 L63.0,230.5 L64.7,231.8 L66.4,233.5 L68.2,235.0 L69.9,236.5 L71.6,237.8 L73.2,239.0 L74.8,239.7 L76.4,242.1 L78.0,243.0 L79.5,245.2 L81.0,246.3 L82.5,248.0 L83.5,249.9 L84.5,251.2 L85.5,253.8 L86.6,255.3 L87.6,256.3 L88.6,258.5 L89.8,260.6 L91.0,262.5 L92.2,263.2 L93.5,265.9 L94.7,266.8 L95.9,268.0 L97.1,270.1 L98.5,272.1 L100.0,273.3 L101.4,275.6 L102.8,277.1 L104.3,278.1 L105.7,280.4 L107.4,282.0 L109.1,284.0 L110.9,285.0 L112.6,286.6 L114.3,288.1 L116.0,289.8 L117.7,290.3 L119.4,291.4 L121.1,292.7 L122.8,294.2 L124.6,294.4 L126.3,295.3 L128.0,297.5 L129.7,298.3 L131.4,299.3 L133.3,300.0 L135.2,301.8 L137.0,302.8 L138.9,303.3 L140.8,304.9 L142.7,305.6 L144.6,306.5 L146.5,306.8 L148.3,307.3 L150.2,309.3 L152.1,310.0 L153.8,311.4 L155.5,311.9 L157.3,313.1 L159.0,314.3 L160.7,314.9 L162.4,316.6 L164.1,317.4 L165.9,318.2 L167.6,318.9 L169.3,320.5 L171.0,321.8 L172.7,322.7 L174.4,324.6 L176.1,325.0 L177.9,326.6 L179.6,327.5 L181.3,329.1 L183.0,330.6 L184.7,331.2 L186.4,333.0 L187.4,334.3 L188.5,337.0 L189.5,338.6 L190.6,341.0 L191.6,343.0" fill="none" stroke="#f7b8b8" stroke-width="1.25" stroke-linejoin="round" opacity="1"/>
<path d="M50.9,189.0 L51.5,191.0 L52.0,193.3 L52.6,196.4 L53.2,198.8 L53.8,201.6 L54.3,203.9 L54.9,205.6 L55.6,207.9 L56.4,210.0 L57.1,212.4 L59.4,214.7 L60.6,215.9 L61.7,218.2 L62.9,220.4 L64.0,222.0 L65.2,224.9 L66.3,226.1 L68.0,227.8 L69.7,230.7 L71.2,232.9 L72.8,233.7 L74.3,235.3 L76.0,237.5 L77.7,239.9 L79.2,241.8 L80.6,244.4 L81.9,247.0 L83.3,247.7 L84.6,250.2 L85.9,251.9 L87.3,253.4 L88.6,255.7 L89.8,257.0 L91.0,259.9 L92.2,261.3 L93.5,262.9 L94.7,264.9 L95.9,265.4 L97.1,267.7 L98.5,269.7 L100.0,271.5 L101.4,272.4 L102.8,274.5 L104.3,277.0 L105.7,278.0 L107.4,279.1 L109.1,281.2 L110.9,281.6 L112.6,283.8 L114.3,284.9 L116.0,285.9 L117.7,287.6 L119.5,288.8 L121.2,290.9 L122.9,291.7 L124.5,293.5 L126.2,294.7 L127.8,296.4 L129.4,297.5 L131.1,299.5 L132.7,300.2 L134.4,302.1 L136.0,303.5 L137.6,304.9 L139.2,305.8 L140.8,306.6 L142.4,308.0 L144.1,310.0 L145.7,310.6 L147.3,312.6 L148.9,313.5 L150.5,315.4 L152.1,316.0 L153.5,317.9 L155.0,319.2 L156.4,320.1 L157.8,321.0 L159.3,323.2 L160.7,324.9 L162.1,326.6 L163.6,327.0 L165.0,328.3 L166.4,331.0 L167.9,332.0 L169.3,333.1 L171.0,334.5 L172.7,336.4 L174.4,337.0 L176.2,339.1 L177.9,340.7 L179.6,342.1 L181.3,343.4 L183.0,344.3 L184.7,345.7 L186.4,347.9 L188.2,349.7 L189.9,350.0 L191.6,352.0" fill="none" stroke="#fde300" stroke-width="1.25" stroke-linejoin="round" opacity="1"/>
<path d="M203.7,222.8 L214.0,223.5 L219.1,223.5 L223.6,222.8 L228.1,221.6 L233.3,219.6 L237.8,217.1 L241.0,213.8 L245.5,211.3 L249.4,208.7 L253.9,206.1 L257.7,203.6 L260.9,201.0 L264.8,197.8 L268.6,195.2 L273.0,192.0 L278.0,190.5 L282.0,191.5 L286.0,196.0 L289.3,202.9 L292.0,210.0 L295.1,217.7 L297.0,225.0 L299.0,235.0 L300.5,245.0 L302.0,255.0 L303.5,265.0 L304.0,280.0 L305.5,293.6 L307.5,300.0 L309.0,306.0 L310.5,312.0 L313.5,326.0 L318.5,343.0 L325.0,345.5 L339.9,346.0" fill="none" stroke="#f7b8b8" stroke-width="1.4" stroke-linejoin="round" stroke-dasharray="1.4 3.4" stroke-linecap="butt" opacity="0.72"/>
<path d="M202.4,213.2 L212.1,214.2 L221.7,215.8 L231.3,215.1 L240.3,213.2 L250.0,209.0 L260.0,202.0 L268.0,195.0 L273.0,191.0 L277.1,188.8 L281.6,188.8 L285.4,192.6 L288.6,195.9 L291.2,200.4 L293.1,204.9 L294.4,210.0 L295.7,214.5 L296.4,221.4 L298.6,230.0 L300.0,238.6 L301.4,245.7 L302.9,254.3 L304.5,265.7 L304.5,280.0 L305.0,293.6 L307.1,299.3 L308.6,305.0 L310.0,312.1 L313.0,326.0 L318.0,343.0 L325.0,345.5 L339.9,346.0" fill="none" stroke="#d65a48" stroke-width="1.4" stroke-linejoin="round" stroke-dasharray="1.4 3.4" stroke-linecap="butt" opacity="0.72"/>
<path d="M202.4,199.1 L212.1,200.4 L221.1,202.0 L230.1,202.5 L235.2,201.6 L239.7,199.7 L252.6,195.6 L257.1,193.3 L261.6,191.4 L270.0,189.5 L275.0,191.0 L278.4,193.9 L281.6,198.4 L284.1,202.9 L286.1,207.4 L288.0,211.3 L289.9,216.4 L291.9,220.9 L293.8,225.4 L296.0,233.0 L298.6,241.0 L300.5,249.0 L302.5,257.0 L304.0,264.0 L305.7,279.3 L309.3,293.6 L312.9,313.6 L315.0,328.0 L319.3,343.0 L325.0,345.0 L339.9,345.9" fill="none" stroke="#a9b86c" stroke-width="1.4" stroke-linejoin="round" stroke-dasharray="1.4 3.4" stroke-linecap="butt" opacity="0.72"/>
<path d="M201.0,190.5 L215.3,194.5 L228.1,196.5 L236.5,195.9 L241.0,193.9 L246.1,192.6 L250.6,191.4 L255.1,189.4 L260.3,188.8 L265.4,189.4 L269.9,191.4 L273.9,193.9 L276.4,197.1 L279.6,201.6 L282.2,206.1 L284.8,210.0 L287.4,214.5 L289.3,219.0 L291.4,222.0 L294.3,227.1 L296.4,234.3 L298.6,241.4 L300.0,248.6 L302.1,255.7 L303.6,262.9 L305.7,279.3 L309.3,293.6 L312.9,313.6 L315.0,328.0 L319.3,343.0 L325.0,345.0 L339.9,345.9" fill="none" stroke="#f28526" stroke-width="1.4" stroke-linejoin="round" stroke-dasharray="1.4 3.4" stroke-linecap="butt" opacity="0.72"/>
<path d="M201.0,188.8 L206.3,190.1 L210.8,192.0 L215.3,193.3 L219.1,195.2 L223.6,196.5 L228.1,197.8 L233.3,199.1 L238.4,200.4 L242.3,201.0 L247.4,202.3 L251.9,203.6 L256.4,204.9 L260.9,207.4 L264.8,210.0 L268.6,212.6 L272.5,215.8 L276.3,218.3 L280.7,221.4 L288.6,227.1 L294.3,235.0 L298.6,243.6 L301.4,253.6 L304.3,262.9 L305.7,279.3 L309.3,293.6 L312.9,313.6 L315.0,328.0 L319.3,343.0 L325.0,345.0 L339.9,345.9" fill="none" stroke="#4d3d3d" stroke-width="1.4" stroke-linejoin="round" stroke-dasharray="1.4 3.4" stroke-linecap="butt" opacity="0.72"/>
<path d="M201.0,189.5 L210.8,191.8 L223.6,195.5 L238.4,199.0 L247.4,200.5 L256.4,202.0 L264.8,206.5 L272.5,212.0 L278.6,220.0 L285.0,227.1 L290.0,235.7 L295.0,245.0 L298.6,254.3 L301.4,263.6 L303.0,270.0 L305.7,279.3 L309.3,293.6 L312.9,313.6 L315.0,328.0 L319.3,343.0 L325.0,345.0 L339.9,345.9" fill="none" stroke="#fde300" stroke-width="1.4" stroke-linejoin="round" stroke-dasharray="1.4 3.4" stroke-linecap="butt" opacity="0.72"/>
<path d="M196.6,333.0 L198.6,332.7 L200.7,332.8 L202.7,333.2 L204.8,333.0 L206.8,333.1 L208.8,333.4 L210.9,333.2 L212.9,333.0 L214.9,333.3 L217.0,332.9 L219.0,333.1 L221.1,333.3 L223.1,333.0 L225.1,333.0 L227.2,333.3 L229.2,333.2 L231.2,333.6 L233.3,333.1 L235.3,333.5 L237.4,333.3 L239.4,333.6 L241.4,333.4 L243.5,333.5 L245.5,333.4 L247.5,333.3 L249.6,333.5 L251.6,333.7 L253.7,333.4 L255.7,333.4 L257.7,333.5 L259.8,333.3 L261.8,333.5 L263.8,333.7 L265.9,333.7 L267.9,333.7 L270.0,333.6 L272.0,333.7 L274.1,333.5 L276.2,333.5 L278.3,333.7 L280.4,333.7 L282.5,334.0 L284.6,333.8 L286.6,334.2 L288.7,334.1 L290.8,334.2 L292.9,334.3 L295.0,334.2 L297.1,334.2 L299.2,334.1 L301.3,334.3 L303.0,335.2 L304.7,336.8 L306.4,337.7 L308.1,338.6 L309.9,340.3 L311.6,341.2 L313.3,342.4 L315.0,343.4 L316.7,344.6 L318.8,344.6 L320.9,345.4 L323.0,345.1 L325.1,345.4 L327.2,346.0 L329.4,345.7 L331.5,346.2 L333.6,346.4 L335.7,346.5 L337.8,347.1 L339.9,347.1" fill="none" stroke="#f26e5e" stroke-width="1.25" stroke-linejoin="round" opacity="1"/>
<path d="M196.6,314.3 L198.6,314.2 L200.7,313.9 L202.7,314.3 L204.8,313.9 L206.8,314.5 L208.8,314.6 L210.9,314.6 L212.9,313.9 L214.9,314.4 L217.0,314.1 L219.0,314.3 L221.1,314.1 L223.1,314.1 L225.1,314.0 L227.2,314.4 L229.2,314.0 L231.2,314.7 L233.3,313.9 L235.3,314.7 L237.4,314.1 L239.4,314.0 L241.4,314.5 L243.5,314.3 L245.5,314.5 L247.5,314.3 L249.6,314.4 L251.6,314.0 L253.7,314.4 L255.7,314.3 L257.7,314.7 L259.8,313.9 L261.8,314.0 L263.8,314.4 L265.9,314.6 L267.9,314.2 L270.0,314.5 L272.0,314.3 L274.0,314.6 L276.0,314.8 L278.0,315.1 L280.0,315.5 L282.0,315.4 L284.0,315.9 L286.0,316.5 L287.9,316.4 L289.9,316.9 L291.9,317.0 L293.9,317.3 L295.9,317.9 L297.9,318.2 L299.9,318.7 L301.9,318.6 L303.9,318.9 L305.0,320.4 L306.0,322.2 L307.1,323.7 L308.2,325.5 L309.2,327.5 L310.3,329.2 L311.4,330.7 L312.4,332.3 L313.5,334.0 L314.6,335.7 L315.6,337.7 L316.7,339.4 L318.6,339.7 L320.6,340.8 L322.5,341.1 L324.4,341.4 L326.4,342.1 L328.3,342.3 L330.2,343.4 L332.2,343.9 L334.1,344.2 L336.0,345.0 L338.0,345.2 L339.9,345.9" fill="none" stroke="#b4532b" stroke-width="1.25" stroke-linejoin="round" opacity="1"/>
<path d="M196.6,312.0 L198.6,311.8 L200.7,311.8 L202.7,311.8 L204.8,312.2 L206.8,312.2 L208.8,312.3 L210.9,311.9 L212.9,312.4 L214.9,312.2 L217.0,312.2 L219.0,312.3 L221.1,312.3 L223.1,312.1 L225.1,312.3 L227.2,312.5 L229.2,312.6 L231.2,312.8 L233.3,312.2 L235.3,312.8 L237.4,312.8 L239.4,312.7 L241.4,313.0 L243.5,312.3 L245.5,312.9 L247.5,313.0 L249.6,312.4 L251.6,312.8 L253.7,313.1 L255.7,312.6 L257.7,313.1 L259.8,313.2 L261.8,312.8 L263.8,312.6 L265.9,312.7 L267.9,313.2 L270.0,312.9 L272.0,313.0 L274.0,313.2 L276.0,313.7 L278.0,314.4 L280.0,314.3 L282.0,314.5 L284.0,315.6 L286.0,315.4 L287.9,315.9 L289.9,316.7 L291.9,316.5 L293.9,316.7 L295.9,317.7 L297.9,317.6 L299.9,317.9 L301.9,318.9 L303.9,318.9 L305.0,320.4 L306.0,322.6 L307.1,323.9 L308.2,325.6 L309.2,327.2 L310.3,329.2 L311.4,330.9 L312.4,332.5 L313.5,334.3 L314.6,335.8 L315.6,338.0 L316.7,339.4 L318.6,340.3 L320.6,340.7 L322.5,341.3 L324.4,341.2 L326.4,341.9 L328.3,342.4 L330.2,342.9 L332.2,344.1 L334.1,344.6 L336.0,345.1 L338.0,345.4 L339.9,345.9" fill="none" stroke="#a9b86c" stroke-width="1.25" stroke-linejoin="round" opacity="1"/>
<path d="M196.6,311.5 L198.6,311.2 L200.7,311.5 L202.7,311.2 L204.8,311.9 L206.8,311.4 L208.8,311.5 L210.9,312.0 L212.9,311.5 L214.9,312.1 L217.0,311.6 L219.0,311.9 L221.1,311.5 L223.1,312.2 L225.1,311.8 L227.2,311.8 L229.2,312.1 L231.2,312.0 L233.3,311.8 L235.3,311.7 L237.4,312.1 L239.4,311.7 L241.4,312.4 L243.5,312.0 L245.5,311.9 L247.5,312.0 L249.6,311.9 L251.6,312.1 L253.7,312.3 L255.7,312.2 L257.7,312.2 L259.8,312.2 L261.8,312.4 L263.8,312.6 L265.9,312.4 L267.9,312.7 L270.0,312.5 L272.0,312.5 L274.0,312.6 L276.0,313.0 L278.0,313.9 L280.0,314.0 L282.0,314.2 L284.0,314.7 L286.0,315.4 L287.9,315.4 L289.9,315.7 L291.9,316.1 L293.9,316.2 L295.9,317.0 L297.9,317.3 L299.9,317.7 L301.9,318.0 L303.9,318.4 L305.0,320.1 L306.0,322.1 L307.1,323.4 L308.2,325.8 L309.2,326.8 L310.3,329.2 L311.4,330.4 L312.4,332.6 L313.5,334.0 L314.6,335.6 L315.6,337.7 L316.7,339.4 L318.6,340.2 L320.6,340.8 L322.5,341.3 L324.4,342.0 L326.4,341.8 L328.3,342.6 L330.2,342.9 L332.2,343.9 L334.1,344.2 L336.0,345.0 L338.0,345.6 L339.9,345.9" fill="none" stroke="#fff3a6" stroke-width="1.25" stroke-linejoin="round" opacity="1"/>
<path d="M196.6,309.3 L198.6,309.8 L200.7,309.6 L202.7,309.9 L204.8,309.7 L206.8,309.5 L208.8,310.2 L210.9,309.7 L212.9,309.8 L214.9,310.5 L217.0,310.2 L219.0,310.6 L221.1,310.2 L223.1,310.4 L225.1,310.9 L227.2,310.5 L229.2,311.0 L231.2,311.4 L233.3,310.9 L235.3,311.4 L237.4,311.5 L239.4,311.6 L241.4,311.8 L243.5,311.8 L245.5,311.4 L247.5,311.6 L249.6,312.0 L251.6,312.4 L253.7,311.9 L255.7,312.3 L257.7,312.1 L259.8,312.8 L261.8,312.5 L263.8,312.7 L265.9,312.9 L267.9,312.6 L270.0,313.2 L272.0,313.1 L274.0,313.7 L276.0,314.1 L278.0,314.0 L280.0,314.3 L282.0,314.6 L284.0,315.6 L286.0,315.6 L287.9,315.9 L289.9,316.4 L291.9,316.9 L293.9,316.9 L295.9,317.3 L297.9,318.0 L299.9,318.4 L301.9,318.4 L303.9,318.9 L305.0,320.3 L306.0,322.7 L307.1,324.2 L308.2,325.8 L309.2,327.4 L310.3,329.5 L311.4,330.8 L312.4,332.3 L313.5,334.0 L314.6,335.9 L315.6,337.8 L316.7,339.4 L318.6,339.8 L320.6,340.8 L322.5,341.1 L324.4,341.5 L326.4,342.2 L328.3,342.7 L330.2,343.3 L332.2,343.7 L334.1,344.3 L336.0,344.8 L338.0,345.6 L339.9,345.9" fill="none" stroke="#f28526" stroke-width="1.25" stroke-linejoin="round" opacity="1"/>
<path d="M196.6,305.1 L196.6,308.6 L198.7,308.5 L200.8,308.9 L203.0,308.6 L205.1,309.0 L207.2,308.6 L209.3,308.9 L211.4,308.9 L213.6,309.1 L215.7,308.9 L217.8,309.0 L219.9,308.9 L222.1,309.2 L224.2,309.3 L226.3,309.3 L228.3,309.0 L230.3,309.0 L232.4,309.0 L234.4,309.4 L236.4,309.1 L238.4,309.1 L240.4,308.9 L242.4,309.1 L244.5,309.1 L246.5,309.0 L248.5,308.5 L250.5,308.8 L252.5,308.8 L254.5,308.5 L256.6,308.9 L258.6,308.5 L260.6,308.6 L262.9,309.0 L265.2,309.7 L267.4,310.2 L269.7,310.6 L272.0,311.1 L274.0,311.9 L276.0,312.2 L278.0,312.7 L280.0,313.1 L282.0,313.9 L284.0,314.4 L286.0,315.1 L287.9,315.5 L289.9,315.9 L291.9,316.4 L293.9,317.1 L295.9,317.6 L297.9,318.6 L299.9,319.0 L301.9,319.4 L303.9,320.1 L304.9,322.1 L305.9,323.9 L306.9,325.5 L307.8,327.8 L308.8,329.4 L309.8,331.7 L310.8,333.1 L311.8,335.0 L312.8,336.9 L313.7,339.2 L314.7,341.0 L315.7,342.8 L316.7,344.6 L318.4,345.7 L320.2,347.1 L321.9,348.4 L323.9,349.0 L325.9,349.0 L327.9,350.0 L329.9,350.3 L331.9,350.8 L333.9,351.1 L335.9,351.5 L337.9,352.2 L339.9,352.3" fill="none" stroke="#fde300" stroke-width="1.25" stroke-linejoin="round" opacity="1"/>
<path d="M196.6,299.4 L198.7,299.4 L200.8,299.5 L203.0,299.5 L205.1,299.7 L207.2,300.2 L209.3,299.8 L211.4,300.3 L213.6,300.3 L215.7,300.7 L217.8,300.7 L219.9,300.8 L222.1,301.0 L224.2,300.6 L226.3,301.0 L228.4,300.9 L230.5,300.9 L232.6,301.0 L234.7,301.1 L236.8,301.2 L238.9,301.1 L240.9,301.3 L243.0,301.1 L245.1,300.9 L247.2,301.0 L249.3,301.1 L251.4,301.0 L253.3,299.7 L255.2,297.9 L257.1,296.5 L260.0,296.7 L262.9,297.1 L264.7,298.2 L266.5,299.0 L268.2,300.4 L270.0,300.9 L271.8,302.3 L273.6,303.2 L275.4,304.1 L277.1,305.3 L278.9,306.3 L280.7,307.3 L282.6,308.2 L284.6,308.8 L286.5,309.3 L288.4,310.1 L290.3,310.7 L292.2,310.9 L294.2,312.0 L296.1,312.4 L297.8,313.9 L299.5,315.3 L301.2,316.4 L303.0,317.5 L304.7,318.6 L306.4,320.1 L307.4,322.0 L308.5,323.5 L309.5,325.7 L310.5,327.3 L311.5,329.3 L312.6,330.8 L313.6,332.6 L314.6,334.7 L315.7,336.4 L316.7,338.1 L318.4,339.3 L320.2,340.7 L321.9,342.0 L323.9,342.3 L325.9,342.7 L327.9,342.9 L329.9,343.0 L331.9,343.7 L333.9,344.0 L335.9,344.2 L337.9,344.2 L339.9,344.6" fill="none" stroke="#4d3d3d" stroke-width="1.25" stroke-linejoin="round" opacity="1"/>
<path d="M47.1,369.0 L47.1,425.9" fill="none" stroke="#7a6a6a" stroke-width="1.2" stroke-linejoin="round" opacity="1"/>
<path d="M46.6,369.3 L46.8,370.8 L46.9,373.6 L47.1,375.8 L47.3,377.5 L47.4,378.9 L47.6,381.6 L47.8,383.3 L47.9,385.1 L48.1,387.4 L48.3,389.2 L48.4,391.5 L48.6,393.7 L48.8,396.0 L48.9,396.7 L49.1,399.3 L49.4,401.5 L49.7,404.1 L50.0,405.8 L50.3,407.7 L50.6,410.2 L50.9,411.1 L51.2,414.3 L51.6,416.1 L51.9,418.1 L52.2,419.8 L52.5,422.3 L52.8,423.7 L53.1,426.4 L53.4,428.4 L53.9,430.2 L54.5,433.4 L55.0,434.9 L55.3,437.4 L55.6,439.0 L55.9,441.6 L56.1,443.1 L56.4,445.4 L56.7,446.9 L57.0,450.1 L57.3,452.0 L57.5,454.1 L57.8,455.2 L58.1,458.4 L58.4,460.0 L58.7,461.4 L59.0,464.3 L59.2,466.3 L59.5,467.8 L59.8,470.4 L60.1,473.3 L60.4,475.0 L60.6,476.6 L60.9,479.5 L61.2,480.9 L61.5,483.8 L61.8,485.2 L62.0,486.8 L62.3,490.3 L62.6,491.7 L64.7,492.0 L66.7,493.2 L68.8,494.9 L70.8,494.8 L72.9,496.3 L75.2,496.4 L77.4,496.8 L79.7,496.3 L81.6,497.6 L83.5,498.3 L85.4,500.1 L87.3,501.3 L89.2,502.1 L91.1,503.1 L93.0,504.4 L94.9,505.1 L96.8,506.4 L98.8,508.4 L100.7,509.6 L102.6,510.0 L104.5,510.2 L106.4,511.4 L108.3,512.4 L110.2,514.2 L112.1,514.3 L114.0,515.7 L116.0,516.1 L118.0,517.8 L120.0,517.8 L122.0,519.9 L124.0,519.9 L126.0,521.5 L128.0,522.2 L130.0,522.6 L132.0,522.5 L134.0,523.6 L136.0,523.4 L138.0,523.4 L140.0,523.5 L142.1,524.8 L144.1,524.9 L146.1,524.8 L148.1,525.9 L150.1,525.2 L152.1,526.0 L154.2,526.1 L156.4,525.8 L158.6,526.4 L160.7,527.4 L162.8,527.1 L165.0,526.8 L167.2,527.1 L169.3,527.7 L171.4,528.0 L173.6,527.5 L175.7,528.6 L177.9,527.4 L180.0,528.7 L182.1,528.4 L184.3,528.8 L186.4,528.2 L188.6,527.9 L190.7,528.6" fill="none" stroke="#f26e5e" stroke-width="1.25" stroke-linejoin="round" opacity="1"/>
<path d="M47.5,369.3 L47.7,370.9 L47.8,373.6 L48.0,374.7 L48.2,376.9 L48.3,380.0 L48.5,382.1 L48.7,384.2 L48.8,386.2 L49.0,387.8 L49.2,390.3 L49.3,392.1 L49.5,393.9 L49.7,395.8 L49.8,397.2 L50.0,400.0 L50.2,401.5 L50.5,403.8 L50.8,406.2 L51.0,407.8 L51.2,411.1 L51.5,412.6 L51.8,414.9 L52.0,417.3 L52.2,418.3 L52.5,421.4 L52.8,423.6 L53.0,425.0 L53.6,426.9 L54.2,428.8 L54.9,432.1 L55.5,434.4 L56.1,436.0 L57.8,438.0 L59.5,438.9 L61.2,440.7 L63.0,441.5 L64.7,443.2 L66.4,445.1 L68.3,446.1 L70.2,447.8 L72.2,447.9 L74.1,450.3 L76.0,450.1 L77.9,452.0 L79.4,454.6 L80.9,455.4 L82.4,457.7 L83.8,459.7 L85.2,461.2 L86.6,462.9 L88.0,463.7 L89.4,465.6 L90.8,466.5 L92.2,468.8 L93.6,469.2 L95.0,471.3 L96.4,473.6 L97.8,474.8 L99.3,475.7 L100.7,478.1 L101.8,480.5 L103.0,481.3 L104.2,482.6 L105.3,485.0 L106.8,486.2 L108.2,487.4 L109.7,489.3 L111.2,491.4 L112.7,493.4 L114.1,494.4 L115.6,496.2 L117.1,497.7 L118.5,499.1 L120.0,500.3 L121.6,501.4 L123.3,502.5 L124.9,503.7 L126.5,505.6 L128.1,506.4 L129.8,508.5 L131.4,509.4 L135.0,510.6 L136.9,511.0 L138.8,512.1 L140.7,512.7 L142.6,513.5 L144.5,513.4 L146.4,514.2 L148.3,515.5 L150.2,515.5 L152.1,516.6 L154.2,517.4 L156.4,518.4 L158.6,518.0 L160.7,519.4 L162.8,519.5 L165.0,520.5 L167.2,520.4 L169.3,520.9 L171.4,521.9 L173.6,522.4 L175.7,522.4 L177.9,523.5 L180.0,524.2 L182.1,524.7 L184.3,525.6 L186.4,526.0 L188.6,527.5 L190.7,527.7" fill="none" stroke="#f7b8b8" stroke-width="1.25" stroke-linejoin="round" opacity="1"/>
<path d="M48.0,369.3 L48.2,371.8 L48.3,373.8 L48.5,374.9 L48.7,377.8 L48.8,379.7 L49.0,382.2 L49.2,382.9 L49.3,385.2 L49.5,388.4 L49.7,389.6 L49.8,392.1 L50.0,394.0 L50.2,395.8 L50.3,397.9 L50.5,400.0 L50.8,402.2 L51.1,404.8 L51.5,406.3 L51.8,408.7 L52.1,410.1 L52.4,412.8 L52.7,414.7 L53.0,417.0 L53.3,419.3 L53.7,420.2 L54.0,423.6 L54.3,425.0 L55.2,427.2 L56.1,429.1 L57.3,430.6 L58.4,432.7 L59.6,434.1 L60.7,436.1 L61.9,438.3 L63.6,440.1 L65.3,441.3 L67.0,442.8 L68.7,443.2 L70.4,444.4 L72.1,446.3 L73.7,447.3 L75.4,448.6 L77.0,450.0 L78.7,450.6 L80.3,452.3 L82.0,453.3 L83.6,454.3 L84.9,455.6 L86.1,458.0 L87.4,458.6 L88.7,461.0 L89.9,462.0 L91.2,463.5 L92.5,465.7 L93.7,467.4 L95.0,469.0 L96.6,470.6 L98.3,471.8 L99.9,474.0 L101.5,475.3 L103.1,475.9 L104.8,477.1 L106.4,479.3 L108.0,481.3 L109.6,481.9 L111.2,482.8 L112.8,484.2 L114.5,486.3 L116.1,486.9 L117.7,488.6 L119.3,490.1 L121.1,491.4 L122.9,492.0 L124.7,493.4 L126.4,494.9 L128.2,495.7 L130.0,496.3 L132.1,497.3 L134.3,498.1 L136.4,498.7 L138.6,498.7 L140.9,499.4 L143.1,499.7 L145.4,499.9 L147.6,500.0 L149.9,500.6 L152.1,500.5 L154.2,500.7 L156.4,502.0 L158.5,503.0 L160.7,502.9 L162.8,502.6 L165.0,503.2 L167.2,504.5 L169.3,503.6 L171.4,504.9 L173.6,504.9 L175.8,504.5 L177.9,505.4 L180.2,505.9 L182.5,505.3 L184.8,506.7 L187.0,506.3 L189.3,507.4 L191.6,507.1" fill="none" stroke="#fff3a6" stroke-width="1.25" stroke-linejoin="round" opacity="1"/>
<path d="M47.8,369.3 L48.0,371.9 L48.1,372.8 L48.3,375.2 L48.5,376.9 L48.6,379.8 L48.8,380.9 L48.9,382.9 L49.1,385.0 L49.3,388.1 L49.4,389.2 L49.6,391.4 L49.8,393.6 L49.9,395.8 L50.1,397.6 L50.2,400.4 L50.4,401.6 L50.6,403.8 L50.7,406.4 L50.9,407.9 L51.2,409.5 L51.5,411.4 L51.8,414.4 L52.2,415.6 L52.5,418.4 L52.8,420.3 L53.1,421.6 L53.4,423.5 L53.7,425.2 L54.1,428.3 L54.4,429.6 L54.7,431.5 L55.0,433.7 L56.1,435.1 L57.3,437.0 L58.4,439.8 L59.6,440.5 L60.7,442.9 L62.1,444.4 L63.6,445.9 L65.0,447.2 L66.4,448.6 L69.9,447.4 L72.1,450.3 L74.1,448.3 L76.1,446.3 L78.1,447.8 L80.1,449.7 L81.6,450.8 L83.2,453.2 L84.7,454.3 L86.2,456.4 L87.8,457.5 L89.3,458.9 L90.7,460.5 L92.2,463.4 L93.6,464.3 L95.0,466.7 L96.4,467.6 L97.8,469.7 L99.3,471.5 L100.7,472.4 L102.6,474.0 L104.5,474.9 L106.4,477.0 L108.3,479.3 L110.2,479.6 L112.1,481.6 L114.0,482.3 L116.0,484.2 L117.9,484.4 L119.5,486.3 L121.0,487.7 L122.6,488.1 L124.1,490.8 L125.7,491.7 L127.6,492.5 L129.5,492.9 L131.4,494.6 L133.3,495.8 L135.2,496.8 L137.1,496.9 L139.0,497.2 L141.0,498.7 L142.9,499.7 L144.8,501.2 L146.7,501.2 L148.6,502.0 L150.5,503.6 L152.4,503.9 L154.3,504.9 L156.2,506.7 L158.1,507.6 L159.9,508.7 L161.8,509.5 L163.7,509.8 L165.6,511.6 L167.4,512.5 L169.3,513.5 L171.2,514.6 L173.1,515.8 L175.0,516.5 L176.9,517.4 L178.8,519.6 L180.7,519.9 L182.6,520.6 L184.5,523.0 L186.4,523.4 L187.8,524.8 L189.3,526.5 L190.7,527.7" fill="none" stroke="#f28526" stroke-width="1.25" stroke-linejoin="round" opacity="1"/>
<path d="M48.3,369.3 L48.5,371.1 L48.7,372.9 L48.9,375.3 L49.1,378.2 L49.4,379.4 L49.6,382.4 L49.8,383.6 L50.0,386.6 L50.2,387.6 L50.4,390.1 L50.6,391.7 L50.9,393.8 L51.1,396.5 L51.3,398.3 L51.5,400.7 L51.7,402.7 L52.3,404.2 L52.9,406.3 L53.6,408.2 L54.2,411.0 L54.8,411.7 L55.4,414.1 L56.1,416.7 L56.7,418.2 L57.3,420.0 L58.4,421.6 L59.6,424.7 L60.8,425.4 L61.9,428.0 L63.9,428.9 L65.9,430.1 L67.9,432.2 L69.9,433.7 L71.9,435.7 L73.9,436.2 L75.9,437.7 L77.9,439.4 L79.3,441.3 L80.8,441.6 L82.2,443.0 L83.6,445.1 L85.0,447.1 L86.4,447.9 L87.9,450.3 L89.3,452.0 L90.4,453.3 L91.6,455.8 L92.7,457.9 L93.9,459.1 L95.0,461.0 L96.9,462.2 L98.8,464.3 L100.7,465.6 L102.1,467.3 L103.6,467.8 L105.0,469.5 L106.4,471.3 L107.8,472.5 L109.2,474.2 L110.7,475.2 L112.1,477.0 L114.0,478.8 L116.0,479.7 L117.9,481.6 L119.9,483.6 L121.8,484.1 L123.8,485.2 L125.7,487.0 L127.6,487.5 L129.5,488.8 L131.4,490.1 L133.3,492.2 L135.2,492.7 L137.1,494.0 L139.0,495.0 L140.8,496.9 L142.7,498.0 L144.6,498.8 L146.5,499.2 L148.3,500.4 L150.2,501.8 L152.1,502.9 L154.0,503.7 L155.9,504.9 L157.8,505.9 L159.7,507.0 L161.7,508.9 L163.6,509.9 L165.5,510.8 L167.4,511.9 L169.3,513.1 L171.2,514.4 L173.1,515.7 L175.0,515.8 L176.9,518.2 L178.8,518.8 L180.7,519.7 L182.6,521.8 L184.5,522.6 L186.4,523.4 L187.8,524.6 L189.3,525.6 L190.7,527.7" fill="none" stroke="#a9b86c" stroke-width="1.25" stroke-linejoin="round" opacity="1"/>
<path d="M48.3,369.3 L48.5,371.2 L48.6,373.2 L48.8,375.1 L49.0,376.7 L49.2,379.4 L49.3,380.9 L49.5,383.7 L49.7,385.3 L49.9,387.0 L50.0,389.8 L50.2,391.2 L50.4,392.7 L50.6,395.0 L50.7,396.6 L50.9,399.3 L51.9,401.3 L52.9,404.0 L54.0,406.1 L55.0,407.8 L56.0,409.6 L56.7,411.2 L57.4,413.4 L58.2,415.4 L58.9,417.7 L59.6,420.0 L60.5,422.1 L61.5,423.1 L62.5,425.7 L63.4,427.5 L64.3,429.7 L65.3,431.4 L67.0,433.6 L68.7,434.7 L70.4,436.7 L72.1,438.3 L73.5,439.7 L75.0,441.6 L76.5,443.6 L77.9,445.1 L79.3,446.2 L80.8,448.6 L82.2,450.3 L83.6,452.0 L85.0,453.3 L86.4,455.1 L87.9,457.7 L89.3,458.9 L91.2,460.5 L93.1,462.1 L95.0,464.4 L96.9,465.6 L98.8,467.5 L100.7,469.0 L102.6,470.4 L104.5,471.8 L106.4,473.6 L108.3,474.8 L110.2,476.2 L112.1,478.1 L113.8,479.3 L115.5,480.5 L117.3,480.9 L119.0,482.7 L120.7,484.1 L122.3,484.9 L124.0,487.2 L125.7,487.7 L127.6,489.5 L129.5,489.4 L131.4,491.1 L133.3,492.4 L135.2,492.8 L137.1,494.0 L139.0,494.8 L141.0,497.2 L142.9,498.0 L144.8,499.6 L146.7,500.4 L148.6,500.9 L150.5,502.2 L152.4,503.9 L154.3,504.3 L156.2,505.5 L158.1,506.8 L160.0,507.7 L161.9,509.0 L163.7,510.4 L165.6,511.5 L167.4,511.7 L169.3,513.1 L171.2,513.8 L173.1,515.5 L175.0,516.7 L176.9,517.5 L178.8,519.4 L180.7,520.5 L182.6,521.4 L184.5,522.3 L186.4,523.4 L187.8,525.1 L189.3,525.8 L190.7,527.7" fill="none" stroke="#4d3d3d" stroke-width="1.25" stroke-linejoin="round" opacity="1"/>
<path d="M49.1,369.3 L49.5,371.9 L50.0,373.0 L50.4,376.3 L50.8,378.0 L51.3,379.6 L51.7,382.1 L52.2,383.8 L52.8,386.5 L53.3,388.5 L53.9,391.0 L54.4,392.2 L54.9,395.6 L55.5,397.0 L56.0,399.3 L57.3,401.4 L58.5,404.0 L59.8,405.9 L61.1,407.9 L62.8,409.5 L64.6,411.0 L66.3,413.0 L67.5,415.3 L68.7,417.0 L69.9,420.0 L71.3,421.1 L72.8,423.3 L74.2,423.7 L75.6,425.7 L77.1,427.0 L78.6,430.0 L80.1,431.4 L81.6,433.1 L83.2,435.2 L84.7,437.1 L86.2,439.2 L87.8,441.3 L89.3,442.9 L90.7,444.6 L92.2,447.2 L93.6,448.0 L95.0,450.7 L96.4,452.6 L97.8,453.3 L99.3,455.2 L100.7,456.4 L102.1,457.5 L103.6,459.6 L105.0,460.5 L106.4,462.1 L108.3,463.6 L110.2,464.5 L112.1,466.1 L113.5,468.5 L115.0,470.3 L116.5,471.3 L117.9,473.6 L119.9,474.8 L121.8,475.9 L123.8,475.7 L125.7,476.9 L127.6,477.9 L129.5,480.5 L131.4,481.4 L133.3,483.3 L135.2,483.2 L137.1,484.9 L139.0,486.4 L141.0,487.8 L142.9,488.3 L144.8,488.9 L146.7,490.6 L148.6,491.1 L150.5,492.0 L152.4,493.9 L154.3,494.6 L156.2,495.5 L158.1,496.4 L160.0,497.4 L161.9,497.9 L163.7,499.8 L165.6,501.0 L167.4,501.5 L169.3,502.9 L170.7,503.6 L172.2,505.1 L173.6,506.8 L175.0,509.3 L176.5,510.3 L177.9,511.4 L179.3,513.4 L180.7,514.6 L182.2,515.2 L183.6,517.0 L185.0,519.2 L186.4,520.0 L187.5,522.3 L188.6,524.2 L189.6,525.7 L190.7,526.9" fill="none" stroke="#fde300" stroke-width="1.25" stroke-linejoin="round" opacity="1"/>
<path d="M200.0,369.6 L210.3,371.4 L219.6,369.6 L229.6,369.3 L238.9,370.7 L243.1,372.9 L250.0,377.0 L256.0,385.1 L261.0,396.4 L266.0,405.0 L269.6,413.6 L274.6,422.1 L278.9,431.4 L282.4,439.3 L286.7,443.6 L291.0,448.0 L298.0,462.0 L305.0,480.0 L312.0,505.0 L316.0,517.0 L322.0,525.0 L340.0,528.0" fill="none" stroke="#f7b8b8" stroke-width="1.4" stroke-linejoin="round" stroke-dasharray="1.4 3.4" stroke-linecap="butt" opacity="0.72"/>
<path d="M202.3,414.9 L240.0,432.0 L270.0,452.0 L300.0,488.0 L314.0,517.0 L322.0,525.0 L340.0,528.0" fill="none" stroke="#fff3a6" stroke-width="1.4" stroke-linejoin="round" stroke-dasharray="1.4 3.4" stroke-linecap="butt" opacity="0.72"/>
<path d="M200.0,369.6 L201.7,373.6 L206.0,379.3 L211.0,386.4 L216.0,392.9 L222.4,399.3 L228.1,405.7 L234.6,412.1 L241.7,418.6 L248.9,424.3 L256.0,429.3 L260.3,432.1 L270.0,437.0 L279.0,441.0 L290.0,450.0 L300.0,465.0 L308.0,490.0 L314.0,517.0 L322.0,525.0 L340.0,528.0" fill="none" stroke="#f26e5e" stroke-width="1.4" stroke-linejoin="round" stroke-dasharray="1.4 3.4" stroke-linecap="butt" opacity="0.72"/>
<path d="M200.0,369.6 L208.9,377.9 L214.6,384.3 L221.0,391.4 L226.7,399.3 L230.3,403.6 L236.0,410.7 L240.3,414.3 L247.4,421.4 L254.6,427.1 L262.4,432.9 L271.0,437.1 L279.6,440.7 L288.1,445.7 L294.6,452.1 L300.3,460.0 L304.6,467.9 L306.7,472.9 L310.0,490.0 L314.0,517.0 L322.0,525.0 L340.0,528.0" fill="none" stroke="#f28526" stroke-width="1.4" stroke-linejoin="round" stroke-dasharray="1.4 3.4" stroke-linecap="butt" opacity="0.72"/>
<path d="M200.0,369.6 L207.0,377.0 L215.0,385.0 L225.0,395.0 L235.0,405.0 L246.7,415.0 L253.1,422.1 L259.6,428.6 L266.7,434.3 L275.3,439.3 L278.9,442.1 L288.0,450.0 L296.0,460.0 L302.0,472.0 L310.0,495.0 L315.0,517.0 L322.0,525.0 L340.0,528.0" fill="none" stroke="#a9b86c" stroke-width="1.4" stroke-linejoin="round" stroke-dasharray="1.4 3.4" stroke-linecap="butt" opacity="0.72"/>
<path d="M203.1,371.4 L212.4,378.6 L218.1,382.9 L224.6,389.3 L230.3,397.1 L236.7,404.3 L241.7,412.1 L244.6,416.4 L250.3,425.0 L255.3,432.9 L260.3,440.7 L266.0,450.0 L272.0,458.0 L278.1,463.6 L284.6,470.7 L293.6,476.3 L309.0,499.4 L315.4,517.4 L322.0,525.0 L340.0,528.0" fill="none" stroke="#fde300" stroke-width="1.4" stroke-linejoin="round" stroke-dasharray="1.4 3.4" stroke-linecap="butt" opacity="0.72"/>
<path d="M200.0,369.6 L206.0,372.9 L213.9,377.9 L222.4,382.1 L231.0,387.1 L239.6,391.4 L247.4,397.1 L255.3,402.1 L263.9,407.9 L272.4,412.9 L280.3,417.9 L284.6,421.4 L290.3,428.6 L293.9,437.9 L297.4,447.1 L299.6,456.4 L301.0,466.4 L302.4,470.7 L308.0,495.0 L314.0,517.0 L322.0,525.0 L340.0,528.0" fill="none" stroke="#4d3d3d" stroke-width="1.4" stroke-linejoin="round" stroke-dasharray="1.4 3.4" stroke-linecap="butt" opacity="0.72"/>
<path d="M196.6,506.3 L198.7,506.5 L200.7,506.5 L202.8,506.7 L204.8,506.4 L206.9,506.2 L208.9,506.4 L211.0,506.3 L213.0,506.4 L215.1,506.7 L217.1,506.5 L219.2,506.5 L221.3,506.5 L223.3,506.7 L225.4,506.8 L227.4,506.9 L229.5,507.1 L231.5,506.6 L233.6,506.8 L235.6,506.7 L237.7,507.0 L239.7,507.1 L241.8,506.8 L243.8,506.6 L245.8,506.6 L247.9,505.9 L249.9,506.3 L251.9,505.8 L254.0,505.8 L256.0,505.6 L258.0,505.9 L260.0,506.5 L262.0,506.6 L264.0,507.0 L266.0,507.3 L268.0,508.0 L270.0,508.2 L272.0,508.6 L274.1,508.6 L276.1,509.0 L278.2,509.4 L280.2,509.5 L282.3,509.9 L284.3,510.3 L286.4,510.4 L288.4,510.8 L290.5,510.7 L292.5,511.3 L294.6,511.6 L296.6,511.6 L298.7,511.8 L300.5,512.5 L302.3,513.5 L304.1,514.8 L305.9,515.8 L307.7,516.7 L309.5,517.5 L311.3,518.5 L313.1,519.2 L314.9,520.4 L316.7,521.3 L318.6,522.1 L320.6,522.2 L322.5,523.0 L324.4,523.6 L326.4,524.1 L328.3,524.4 L330.2,524.9 L332.2,525.7 L334.1,526.4 L336.0,526.9 L338.0,527.1 L339.9,527.7" fill="none" stroke="#f7b8b8" stroke-width="1.25" stroke-linejoin="round" opacity="1"/>
<path d="M196.6,494.9 L198.6,495.4 L200.7,495.8 L202.7,496.0 L204.7,496.6 L206.8,496.7 L208.8,497.0 L210.8,497.2 L212.9,498.1 L214.9,498.3 L217.0,498.8 L219.0,498.6 L221.1,499.0 L223.2,499.4 L225.3,499.7 L227.3,500.3 L229.4,500.3 L231.5,500.8 L233.6,501.1 L235.6,501.3 L237.7,501.7 L239.7,501.9 L241.7,501.7 L243.7,501.7 L245.7,501.8 L247.7,501.6 L249.7,501.5 L251.7,502.0 L253.7,501.7 L255.7,502.4 L257.8,502.7 L259.8,503.2 L261.8,503.8 L263.9,504.1 L265.9,504.5 L267.9,505.3 L270.0,506.0 L272.0,506.3 L274.1,506.5 L276.1,507.4 L278.2,507.5 L280.2,508.3 L282.3,508.6 L284.3,508.7 L286.4,509.1 L288.4,509.9 L290.5,510.4 L292.5,510.7 L294.6,511.0 L296.6,511.4 L298.7,511.8 L300.5,512.9 L302.3,513.9 L304.1,514.9 L305.9,515.5 L307.7,516.7 L309.5,517.8 L311.3,518.5 L313.1,519.1 L314.9,520.2 L316.7,521.3 L318.6,521.9 L320.6,522.3 L322.5,523.2 L324.4,523.5 L326.4,524.1 L328.3,524.3 L330.2,525.0 L332.2,525.7 L334.1,526.4 L336.0,526.9 L338.0,527.0 L339.9,527.7" fill="none" stroke="#4d3d3d" stroke-width="1.25" stroke-linejoin="round" opacity="1"/>
<path d="M196.6,488.7 L198.7,488.8 L200.8,489.2 L203.0,488.8 L205.1,488.9 L207.2,489.1 L209.3,489.5 L211.4,489.4 L213.6,489.7 L215.7,489.9 L217.8,490.0 L219.9,489.7 L222.1,490.2 L224.2,490.4 L226.3,490.3 L228.4,490.5 L230.4,490.6 L232.5,490.7 L234.6,490.6 L236.7,490.8 L238.7,490.7 L240.8,490.5 L242.9,490.7 L245.0,491.1 L247.0,490.8 L249.1,491.0 L251.4,490.6 L253.7,490.5 L256.0,490.0 L258.3,489.7 L260.6,489.1 L262.5,489.8 L264.4,490.6 L266.3,491.1 L268.2,492.0 L270.1,492.7 L272.0,493.7 L274.1,494.3 L276.1,494.8 L278.2,495.1 L280.2,495.9 L282.3,496.2 L284.3,496.9 L286.4,497.2 L288.4,498.0 L290.5,498.3 L292.5,499.3 L294.6,499.5 L296.6,500.4 L298.7,500.7 L300.4,501.7 L302.1,502.7 L303.9,504.1 L305.6,504.8 L307.3,506.0 L309.0,507.1 L310.1,509.0 L311.2,510.9 L312.4,512.5 L313.5,513.9 L314.6,515.9 L315.8,518.0 L316.9,519.7 L318.0,521.3 L320.0,521.8 L322.0,522.2 L324.0,522.9 L326.0,523.8 L328.0,524.0 L329.9,525.0 L331.9,525.2 L333.9,526.1 L335.9,526.7 L337.9,527.0 L339.9,527.7" fill="none" stroke="#f28526" stroke-width="1.25" stroke-linejoin="round" opacity="1"/>
<path d="M196.6,476.0 L198.7,476.3 L200.8,476.6 L203.0,476.6 L205.1,477.0 L207.2,477.3 L209.3,477.7 L211.4,477.6 L213.6,477.7 L215.7,478.2 L217.8,478.5 L219.9,478.7 L222.1,479.2 L224.2,479.0 L226.3,479.4 L228.4,479.6 L230.5,479.7 L232.5,479.7 L234.6,480.0 L236.7,480.2 L238.8,480.3 L240.8,480.7 L242.9,481.0 L245.0,481.1 L247.1,480.8 L249.2,481.1 L251.2,481.6 L253.3,481.2 L255.4,481.4 L257.5,481.5 L259.5,482.2 L261.6,482.1 L263.7,482.2 L265.8,482.2 L267.8,482.8 L269.9,483.0 L272.0,482.9 L273.7,484.0 L275.5,485.1 L277.2,485.9 L279.0,486.8 L280.7,487.9 L282.6,488.5 L284.4,489.4 L286.3,490.1 L288.2,491.1 L290.1,491.7 L291.9,492.5 L293.8,493.9 L295.7,494.7 L297.6,495.5 L299.4,496.0 L301.3,496.9 L302.8,498.3 L304.2,499.8 L305.7,501.4 L307.2,502.6 L308.7,504.2 L310.1,505.7 L311.6,507.1 L312.5,509.1 L313.4,510.7 L314.3,512.3 L315.3,514.4 L316.2,516.5 L317.1,518.0 L318.0,520.0 L320.0,520.8 L322.0,521.2 L324.0,522.0 L326.0,522.9 L328.0,523.3 L329.9,524.2 L331.9,525.0 L333.9,525.5 L335.9,526.5 L337.9,527.2 L339.9,527.7" fill="none" stroke="#fde300" stroke-width="1.25" stroke-linejoin="round" opacity="1"/>
<path d="M196.6,462.3 L198.6,462.5 L200.7,463.3 L202.7,463.6 L204.7,463.9 L206.8,464.3 L208.8,464.6 L210.8,465.1 L212.9,465.5 L214.9,465.7 L217.0,465.6 L219.0,466.0 L221.1,466.2 L223.2,466.1 L225.3,466.6 L227.3,466.2 L229.4,466.5 L231.5,466.6 L233.6,466.8 L235.6,466.5 L237.7,466.9 L239.9,467.4 L242.0,467.3 L244.2,468.1 L246.3,468.4 L248.5,468.9 L250.7,469.4 L252.8,469.9 L255.0,469.9 L256.9,470.6 L258.9,472.0 L260.8,472.5 L262.7,473.4 L264.7,473.9 L266.6,475.5 L268.5,475.9 L270.4,476.8 L272.4,477.7 L274.3,478.5 L276.2,479.4 L278.2,480.3 L280.1,481.4 L282.0,482.1 L284.0,483.3 L285.9,484.0 L287.6,485.4 L289.3,486.5 L291.0,487.1 L292.7,488.4 L294.4,489.6 L296.1,490.6 L297.9,491.4 L299.6,492.4 L301.3,493.9 L303.0,494.9 L304.7,495.7 L306.4,496.9 L307.3,498.9 L308.3,500.3 L309.2,502.7 L310.1,504.7 L311.1,506.6 L312.0,507.8 L313.0,510.1 L313.9,512.0 L314.8,513.4 L315.8,515.6 L316.7,517.4 L318.0,518.8 L319.4,520.5 L320.7,522.0 L322.0,524.0 L324.0,524.2 L326.0,525.1 L328.0,525.3 L330.0,525.9 L331.9,526.4 L333.9,526.2 L335.9,527.2 L337.9,527.6 L339.9,527.7" fill="none" stroke="#fff3a6" stroke-width="1.25" stroke-linejoin="round" opacity="1"/>
<path d="M196.6,442.9 L198.9,443.4 L201.2,443.5 L203.4,443.7 L205.7,444.3 L208.0,444.6 L210.3,445.1 L212.3,444.8 L214.3,445.0 L216.3,444.8 L218.3,444.4 L220.3,444.2 L222.3,444.3 L224.3,444.3 L226.3,444.0 L228.4,444.2 L230.4,444.3 L232.5,444.6 L234.6,444.6 L236.7,444.5 L238.7,444.8 L240.8,444.8 L242.9,444.7 L245.0,444.6 L247.0,444.9 L249.1,445.1 L251.2,445.8 L253.4,446.4 L255.5,446.6 L257.6,447.3 L259.8,447.5 L261.9,448.5 L264.0,448.9 L266.1,449.7 L268.3,450.3 L270.4,450.6 L272.2,451.4 L274.0,453.3 L275.8,453.9 L277.5,455.7 L279.3,456.9 L281.1,457.5 L282.9,458.7 L284.7,459.8 L286.5,461.6 L288.2,462.7 L290.0,464.0 L291.8,465.1 L293.6,466.0 L294.9,467.5 L296.2,469.4 L297.5,470.7 L298.8,472.3 L300.0,474.0 L301.3,475.8 L302.6,477.1 L303.9,478.9 L304.8,480.8 L305.7,482.6 L306.6,484.6 L307.6,486.2 L308.5,488.0 L309.4,489.9 L310.3,491.7 L310.8,493.6 L311.3,495.8 L311.8,497.3 L312.3,499.3 L312.8,501.2 L313.3,503.5 L313.7,505.8 L314.2,507.6 L314.7,509.6 L315.2,511.8 L315.7,513.7 L316.2,515.3 L316.7,517.4 L318.0,518.8 L319.4,520.7 L320.7,522.1 L322.0,524.0 L324.0,524.5 L326.0,524.5 L328.0,525.1 L330.0,525.8 L331.9,525.9 L333.9,526.2 L335.9,527.1 L337.9,527.0 L339.9,527.7" fill="none" stroke="#a9b86c" stroke-width="1.25" stroke-linejoin="round" opacity="1"/>
<path d="M196.1,419.4 L196.3,421.8 L196.4,423.7 L196.6,425.7 L198.6,426.5 L200.5,426.7 L202.5,427.1 L204.4,427.4 L206.4,427.8 L208.3,429.0 L210.3,429.1 L212.6,428.9 L214.9,428.8 L217.1,429.4 L219.4,429.1 L221.7,429.1 L224.0,428.7 L226.3,428.6 L228.5,428.0 L230.8,427.1 L233.1,426.9 L235.1,427.1 L237.1,427.7 L239.1,428.1 L241.1,428.0 L243.1,428.6 L245.5,429.3 L247.9,430.5 L250.3,431.4 L252.7,431.8 L255.0,433.1 L257.4,433.6 L259.8,434.4 L262.2,434.7 L264.6,435.7 L267.0,436.7 L269.3,437.7 L271.7,438.6 L273.3,439.6 L275.0,441.2 L276.6,442.8 L278.2,443.9 L279.8,445.4 L281.5,446.4 L283.1,447.9 L284.5,449.7 L286.0,450.9 L287.4,452.2 L288.9,453.2 L290.3,455.0 L291.7,456.5 L293.1,457.8 L294.6,459.7 L296.0,461.1 L297.4,462.9 L298.8,464.3 L300.2,465.9 L301.7,467.4 L303.1,469.3 L304.6,471.6 L306.0,474.3 L306.6,476.2 L307.2,477.9 L307.9,480.1 L308.5,482.4 L309.1,484.1 L309.7,486.3 L310.4,487.5 L311.0,489.9 L311.6,491.7 L312.0,493.5 L312.4,496.0 L312.8,497.6 L313.2,499.8 L313.6,501.8 L314.0,503.3 L314.3,505.2 L314.7,507.8 L315.1,509.7 L315.5,511.4 L315.9,513.1 L316.3,515.0 L316.7,517.4 L318.0,519.3 L319.3,520.8 L320.6,522.2 L321.9,523.9 L323.9,524.5 L325.9,525.1 L327.9,524.9 L329.9,526.0 L331.9,526.7 L333.9,527.1 L335.9,527.6 L337.9,527.7 L339.9,528.2" fill="none" stroke="#f26e5e" stroke-width="1.25" stroke-linejoin="round" opacity="1"/>
</svg></body></html>
